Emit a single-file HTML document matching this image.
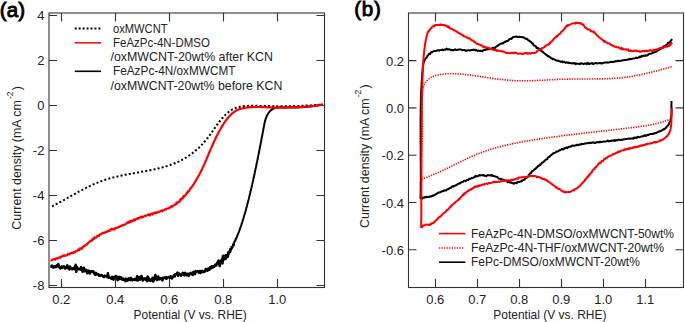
<!DOCTYPE html>
<html><head><meta charset="utf-8"><title>Chart</title>
<style>html,body{margin:0;padding:0;background:#fff;width:685px;height:322px;overflow:hidden}
svg{display:block;font-family:"Liberation Sans",sans-serif}</style></head>
<body>
<svg width="685" height="322" viewBox="0 0 685 322">
<rect width="685" height="322" fill="#fff"/>
<text x="-0.2" y="16.6" font-family="Liberation Sans, sans-serif" font-size="20.5" letter-spacing="0.1" fill="#000" stroke="#000" stroke-width="0.9">(a)</text>
<text x="354.2" y="16.3" font-family="Liberation Sans, sans-serif" font-size="20.5" letter-spacing="0.8" fill="#000" stroke="#000" stroke-width="0.9">(b)</text>
<rect x="49.0" y="13.0" width="275.5" height="274.5" fill="none" stroke="#333" stroke-width="1.1"/>
<path d="M61.5,287.5 V279.0 M61.5,13.0 V21.5" stroke="#333" stroke-width="1.1"/>
<text x="61.2" y="304.1" font-family="Liberation Sans, sans-serif" font-size="13" text-anchor="middle" fill="#222">0.2</text>
<path d="M115.5,287.5 V279.0 M115.5,13.0 V21.5" stroke="#333" stroke-width="1.1"/>
<text x="115.2" y="304.1" font-family="Liberation Sans, sans-serif" font-size="13" text-anchor="middle" fill="#222">0.4</text>
<path d="M169.5,287.5 V279.0 M169.5,13.0 V21.5" stroke="#333" stroke-width="1.1"/>
<text x="169.2" y="304.1" font-family="Liberation Sans, sans-serif" font-size="13" text-anchor="middle" fill="#222">0.6</text>
<path d="M223.50000000000003,287.5 V279.0 M223.50000000000003,13.0 V21.5" stroke="#333" stroke-width="1.1"/>
<text x="223.2" y="304.1" font-family="Liberation Sans, sans-serif" font-size="13" text-anchor="middle" fill="#222">0.8</text>
<path d="M277.5,287.5 V279.0 M277.5,13.0 V21.5" stroke="#333" stroke-width="1.1"/>
<text x="277.2" y="304.1" font-family="Liberation Sans, sans-serif" font-size="13" text-anchor="middle" fill="#222">1.0</text>
<path d="M49.0,15.5 H57.0 M324.5,15.5 H316.5" stroke="#333" stroke-width="1.1"/>
<text x="44.4" y="19.9" font-family="Liberation Sans, sans-serif" font-size="13" text-anchor="end" fill="#222">4</text>
<path d="M49.0,60.5 H57.0 M324.5,60.5 H316.5" stroke="#333" stroke-width="1.1"/>
<text x="44.4" y="64.9" font-family="Liberation Sans, sans-serif" font-size="13" text-anchor="end" fill="#222">2</text>
<path d="M49.0,105.5 H57.0 M324.5,105.5 H316.5" stroke="#333" stroke-width="1.1"/>
<text x="44.4" y="109.9" font-family="Liberation Sans, sans-serif" font-size="13" text-anchor="end" fill="#222">0</text>
<path d="M49.0,150.5 H57.0 M324.5,150.5 H316.5" stroke="#333" stroke-width="1.1"/>
<text x="44.4" y="154.9" font-family="Liberation Sans, sans-serif" font-size="13" text-anchor="end" fill="#222">-2</text>
<path d="M49.0,195.5 H57.0 M324.5,195.5 H316.5" stroke="#333" stroke-width="1.1"/>
<text x="44.4" y="199.9" font-family="Liberation Sans, sans-serif" font-size="13" text-anchor="end" fill="#222">-4</text>
<path d="M49.0,240.5 H57.0 M324.5,240.5 H316.5" stroke="#333" stroke-width="1.1"/>
<text x="44.4" y="244.9" font-family="Liberation Sans, sans-serif" font-size="13" text-anchor="end" fill="#222">-6</text>
<path d="M49.0,285.5 H57.0 M324.5,285.5 H316.5" stroke="#333" stroke-width="1.1"/>
<text x="44.4" y="289.9" font-family="Liberation Sans, sans-serif" font-size="13" text-anchor="end" fill="#222">-8</text>
<text x="133.6" y="319.1" font-family="Liberation Sans, sans-serif" font-size="12.7" textLength="113.2" lengthAdjust="spacingAndGlyphs" fill="#222">Potential (V vs. RHE)</text>
<text transform="translate(21.4,229.7) rotate(-90)" font-family="Liberation Sans, sans-serif" font-size="12.6" fill="#222"><tspan x="0" y="0" textLength="129.5" lengthAdjust="spacingAndGlyphs">Current density (mA cm</tspan><tspan x="130.6" y="-8" font-size="8.4">-2</tspan><tspan x="139.4" y="0">)</tspan></text>
<rect x="408.5" y="13.0" width="275.0" height="274.5" fill="none" stroke="#333" stroke-width="1.1"/>
<path d="M435.5,287.5 V279.0 M435.5,13.0 V21.5" stroke="#333" stroke-width="1.1"/>
<text x="435.2" y="304.1" font-family="Liberation Sans, sans-serif" font-size="13" text-anchor="middle" fill="#222">0.6</text>
<path d="M477.5,287.5 V279.0 M477.5,13.0 V21.5" stroke="#333" stroke-width="1.1"/>
<text x="477.2" y="304.1" font-family="Liberation Sans, sans-serif" font-size="13" text-anchor="middle" fill="#222">0.7</text>
<path d="M519.5,287.5 V279.0 M519.5,13.0 V21.5" stroke="#333" stroke-width="1.1"/>
<text x="519.2" y="304.1" font-family="Liberation Sans, sans-serif" font-size="13" text-anchor="middle" fill="#222">0.8</text>
<path d="M561.5,287.5 V279.0 M561.5,13.0 V21.5" stroke="#333" stroke-width="1.1"/>
<text x="561.2" y="304.1" font-family="Liberation Sans, sans-serif" font-size="13" text-anchor="middle" fill="#222">0.9</text>
<path d="M603.5,287.5 V279.0 M603.5,13.0 V21.5" stroke="#333" stroke-width="1.1"/>
<text x="603.2" y="304.1" font-family="Liberation Sans, sans-serif" font-size="13" text-anchor="middle" fill="#222">1.0</text>
<path d="M645.5,287.5 V279.0 M645.5,13.0 V21.5" stroke="#333" stroke-width="1.1"/>
<text x="645.2" y="304.1" font-family="Liberation Sans, sans-serif" font-size="13" text-anchor="middle" fill="#222">1.1</text>
<path d="M408.5,60.6 H416.5 M683.5,60.6 H675.5" stroke="#333" stroke-width="1.1"/>
<text x="404" y="65.6" font-family="Liberation Sans, sans-serif" font-size="13" text-anchor="end" fill="#222">0.2</text>
<path d="M408.5,107.9 H416.5 M683.5,107.9 H675.5" stroke="#333" stroke-width="1.1"/>
<text x="404" y="112.9" font-family="Liberation Sans, sans-serif" font-size="13" text-anchor="end" fill="#222">0.0</text>
<path d="M408.5,155.2 H416.5 M683.5,155.2 H675.5" stroke="#333" stroke-width="1.1"/>
<text x="404" y="160.2" font-family="Liberation Sans, sans-serif" font-size="13" text-anchor="end" fill="#222">-0.2</text>
<path d="M408.5,202.5 H416.5 M683.5,202.5 H675.5" stroke="#333" stroke-width="1.1"/>
<text x="404" y="207.5" font-family="Liberation Sans, sans-serif" font-size="13" text-anchor="end" fill="#222">-0.4</text>
<path d="M408.5,249.8 H416.5 M683.5,249.8 H675.5" stroke="#333" stroke-width="1.1"/>
<text x="404" y="254.8" font-family="Liberation Sans, sans-serif" font-size="13" text-anchor="end" fill="#222">-0.6</text>
<text x="493.3" y="319.1" font-family="Liberation Sans, sans-serif" font-size="12.7" textLength="113.2" lengthAdjust="spacingAndGlyphs" fill="#222">Potential (V vs. RHE)</text>
<text transform="translate(369.2,227.9) rotate(-90)" font-family="Liberation Sans, sans-serif" font-size="12.6" fill="#222"><tspan x="0" y="0" textLength="129.5" lengthAdjust="spacingAndGlyphs">Current density (mA cm</tspan><tspan x="130.6" y="-8" font-size="8.4">-2</tspan><tspan x="139.4" y="0">)</tspan></text>
<g fill="none" stroke-linejoin="round" stroke-linecap="butt">
<path d="M52.0,206.4 L52.6,206.1 L53.3,205.7 L53.9,205.4 L54.5,205.1 L55.1,204.8 L55.7,204.5 L56.3,204.1 L56.9,203.8 L57.5,203.5 L58.1,203.1 L58.7,202.8 L59.4,202.5 L60.0,202.1 L60.6,201.8 L61.2,201.5 L61.8,201.1 L62.4,200.8 L63.0,200.5 L63.6,200.1 L64.2,199.8 L64.9,199.4 L65.5,199.1 L66.1,198.7 L66.7,198.4 L67.3,198.1 L67.9,197.7 L68.5,197.4 L69.2,197.0 L69.8,196.7 L70.4,196.3 L71.0,196.0 L71.6,195.6 L72.2,195.3 L72.8,194.9 L73.5,194.6 L74.1,194.3 L74.7,193.9 L75.3,193.6 L75.9,193.2 L76.6,192.9 L77.2,192.6 L77.8,192.2 L78.4,191.9 L79.0,191.5 L79.7,191.2 L80.3,190.9 L80.9,190.5 L81.5,190.2 L82.2,189.9 L82.8,189.6 L83.4,189.2 L84.0,188.9 L84.7,188.6 L85.3,188.3 L85.9,187.9 L86.6,187.6 L87.2,187.3 L87.8,187.0 L88.4,186.7 L89.1,186.4 L89.7,186.1 L90.4,185.8 L91.0,185.5 L91.6,185.2 L92.3,184.9 L92.9,184.6 L93.5,184.3 L94.2,184.0 L94.8,183.8 L95.5,183.5 L96.1,183.2 L96.8,182.9 L97.4,182.7 L98.1,182.4 L98.7,182.1 L99.4,181.9 L100.0,181.6 L100.7,181.4 L101.3,181.1 L102.0,180.9 L102.6,180.6 L103.3,180.4 L104.0,180.2 L104.6,180.0 L105.3,179.7 L105.9,179.5 L106.6,179.3 L107.3,179.1 L107.9,178.9 L108.6,178.7 L109.3,178.5 L109.9,178.3 L110.6,178.1 L111.3,177.9 L112.0,177.8 L112.6,177.6 L113.3,177.4 L114.0,177.2 L114.7,177.1 L115.3,176.9 L116.0,176.7 L116.7,176.6 L117.4,176.4 L118.1,176.3 L118.8,176.1 L119.4,175.9 L120.1,175.8 L120.8,175.7 L121.5,175.5 L122.2,175.4 L122.9,175.2 L123.6,175.1 L124.2,175.0 L124.9,174.8 L125.6,174.7 L126.3,174.6 L127.0,174.4 L127.7,174.3 L128.4,174.2 L129.1,174.0 L129.8,173.9 L130.5,173.8 L131.1,173.7 L131.8,173.5 L132.5,173.4 L133.2,173.3 L133.9,173.2 L134.6,173.1 L135.3,172.9 L136.0,172.8 L136.7,172.7 L137.4,172.6 L138.1,172.4 L138.8,172.3 L139.5,172.2 L140.2,172.1 L140.9,172.0 L141.5,171.8 L142.2,171.7 L142.9,171.6 L143.6,171.5 L144.3,171.3 L145.0,171.2 L145.7,171.1 L146.4,171.0 L147.1,170.8 L147.8,170.7 L148.5,170.6 L149.2,170.4 L149.8,170.3 L150.5,170.2 L151.2,170.0 L151.9,169.9 L152.6,169.7 L153.3,169.6 L154.0,169.4 L154.7,169.3 L155.4,169.1 L156.0,169.0 L156.7,168.8 L157.4,168.7 L158.1,168.5 L158.8,168.3 L159.5,168.2 L160.1,168.0 L160.8,167.8 L161.5,167.6 L162.2,167.5 L162.8,167.3 L163.5,167.1 L164.2,166.9 L164.9,166.7 L165.5,166.5 L166.2,166.3 L166.9,166.1 L167.5,165.9 L168.2,165.7 L168.9,165.5 L169.5,165.2 L170.2,165.0 L170.8,164.8 L171.5,164.5 L172.2,164.3 L172.8,164.0 L173.5,163.8 L174.1,163.5 L174.8,163.3 L175.4,163.0 L176.0,162.7 L176.7,162.5 L177.3,162.2 L177.9,161.9 L178.6,161.6 L179.2,161.3 L179.8,161.0 L180.5,160.7 L181.1,160.4 L181.7,160.1 L182.3,159.7 L182.9,159.4 L183.5,159.1 L184.1,158.7 L184.7,158.4 L185.3,158.0 L185.9,157.6 L186.5,157.3 L187.1,156.9 L187.7,156.5 L188.3,156.1 L188.9,155.7 L189.5,155.3 L190.0,154.9 L190.6,154.5 L191.2,154.1 L191.8,153.7 L192.3,153.3 L192.9,152.8 L193.4,152.4 L194.0,151.9 L194.5,151.5 L195.1,151.0 L195.6,150.6 L196.1,150.1 L196.7,149.7 L197.2,149.2 L197.7,148.7 L198.2,148.2 L198.8,147.8 L199.3,147.3 L199.8,146.8 L200.3,146.3 L200.8,145.8 L201.3,145.3 L201.8,144.8 L202.3,144.2 L202.7,143.7 L203.2,143.2 L203.7,142.7 L204.2,142.2 L204.6,141.6 L205.1,141.1 L205.5,140.5 L206.0,140.0 L206.4,139.5 L206.9,138.9 L207.3,138.4 L207.7,137.8 L208.2,137.2 L208.6,136.7 L209.0,136.1 L209.4,135.6 L209.8,135.0 L210.3,134.4 L210.7,133.8 L211.1,133.3 L211.5,132.7 L211.9,132.1 L212.3,131.6 L212.7,131.0 L213.1,130.4 L213.5,129.8 L213.9,129.2 L214.3,128.7 L214.7,128.1 L215.2,127.5 L215.6,126.9 L216.0,126.4 L216.4,125.8 L216.8,125.2 L217.2,124.7 L217.6,124.1 L218.0,123.5 L218.5,123.0 L218.9,122.4 L219.3,121.8 L219.7,121.3 L220.2,120.7 L220.6,120.2 L221.1,119.6 L221.5,119.1 L222.0,118.5 L222.4,118.0 L222.9,117.5 L223.3,116.9 L223.8,116.4 L224.3,115.9 L224.8,115.4 L225.3,114.9 L225.8,114.4 L226.3,114.0 L226.8,113.5 L227.3,113.0 L227.8,112.6 L228.3,112.2 L228.9,111.7 L229.4,111.3 L230.0,111.0 L230.5,110.6 L231.1,110.2 L231.6,109.9 L232.2,109.5 L232.8,109.2 L233.4,108.9 L234.0,108.6 L234.6,108.4 L235.3,108.1 L235.9,107.9 L236.5,107.7 L237.2,107.5 L237.8,107.3 L238.5,107.1 L239.1,107.0 L239.8,106.8 L240.5,106.7 L241.2,106.5 L241.8,106.4 L242.5,106.3 L243.2,106.2 L243.9,106.1 L244.6,106.1 L245.3,106.0 L246.0,105.9 L246.8,105.9 L247.5,105.9 L248.2,105.8 L248.9,105.8 L249.6,105.8 L250.4,105.8 L251.1,105.8 L251.8,105.7 L252.6,105.7 L253.3,105.8 L254.0,105.8 L254.8,105.8 L255.5,105.8 L256.2,105.8 L257.0,105.8 L257.7,105.8 L258.4,105.9 L259.1,105.9 L259.9,105.9 L260.6,105.9 L261.3,105.9 L262.0,106.0 L262.8,106.0 L263.5,106.0 L264.2,106.0 L264.9,106.0 L265.6,106.0 L266.4,106.1 L267.1,106.1 L267.8,106.1 L268.5,106.1 L269.2,106.1 L269.9,106.1 L270.6,106.1 L271.3,106.2 L272.0,106.2 L272.7,106.2 L273.4,106.2 L274.1,106.2 L274.8,106.2 L275.5,106.2 L276.2,106.2 L276.9,106.2 L277.6,106.2 L278.3,106.2 L279.0,106.2 L279.7,106.2 L280.4,106.2 L281.1,106.2 L281.8,106.2 L282.5,106.2 L283.2,106.2 L283.9,106.2 L284.5,106.2 L285.2,106.2 L285.9,106.2 L286.6,106.2 L287.3,106.2 L288.0,106.2 L288.7,106.2 L289.4,106.2 L290.1,106.2 L290.8,106.2 L291.4,106.1 L292.1,106.1 L292.8,106.1 L293.5,106.1 L294.2,106.1 L294.9,106.1 L295.6,106.0 L296.3,106.0 L297.0,106.0 L297.6,106.0 L298.3,106.0 L299.0,105.9 L299.7,105.9 L300.4,105.9 L301.1,105.9 L301.8,105.8 L302.5,105.8 L303.2,105.8 L303.9,105.7 L304.6,105.7 L305.3,105.7 L306.0,105.6 L306.7,105.6 L307.4,105.6 L308.1,105.5 L308.8,105.5 L309.5,105.4 L310.2,105.4 L310.9,105.4 L311.6,105.3 L312.3,105.3 L313.0,105.2 L313.7,105.2 L314.4,105.1 L315.1,105.1 L315.8,105.0 L316.5,105.0 L317.2,104.9 L318.0,104.8 L318.7,104.8 L319.4,104.7 L320.1,104.7 L320.8,104.6 L321.6,104.5" stroke="#000" stroke-width="2" stroke-dasharray="2 2.2"/>
<path d="M50.5,265.9 L51.2,266.5 L51.9,265.5 L52.6,266.8 L53.3,267.5 L54.0,266.3 L54.7,266.8 L55.4,266.3 L56.1,267.1 L56.8,265.3 L57.5,266.1 L58.2,264.1 L58.9,266.9 L59.6,267.2 L60.3,268.3 L61.0,267.8 L61.7,266.6 L62.4,267.9 L63.1,266.5 L63.8,266.5 L64.5,266.5 L65.2,268.5 L65.9,268.0 L66.6,267.8 L67.3,265.4 L68.0,268.1 L68.7,267.4 L69.4,269.4 L70.1,266.7 L70.8,268.3 L71.5,268.3 L72.2,269.3 L72.9,268.6 L73.6,267.9 L74.3,269.1 L74.9,268.6 L75.6,264.8 L76.3,271.8 L77.0,267.0 L77.7,269.2 L78.4,269.1 L79.1,269.1 L79.8,268.8 L80.4,269.5 L81.1,267.2 L81.8,269.0 L82.5,271.6 L83.2,270.2 L83.8,267.7 L84.5,271.3 L85.2,270.6 L85.9,269.8 L86.5,270.4 L87.2,273.3 L87.9,270.7 L88.5,270.7 L89.2,271.0 L89.9,273.4 L90.5,271.6 L91.2,271.5 L91.9,271.3 L92.5,271.9 L93.2,271.4 L93.9,272.8 L94.5,273.8 L95.2,274.9 L95.9,272.9 L96.5,274.2 L97.2,274.5 L97.9,274.4 L98.5,274.4 L99.2,275.8 L99.9,275.7 L100.5,275.5 L101.2,275.0 L101.9,275.2 L102.5,275.8 L103.2,276.5 L103.9,277.0 L104.5,275.8 L105.2,276.1 L105.9,276.2 L106.6,276.1 L107.3,277.0 L107.9,273.3 L108.6,277.6 L109.3,277.7 L110.0,277.8 L110.7,278.3 L111.4,278.8 L112.1,276.8 L112.8,277.3 L113.5,279.6 L114.2,277.4 L114.9,277.7 L115.6,276.0 L116.3,277.2 L117.0,276.9 L117.7,280.1 L118.4,277.9 L119.1,276.8 L119.8,278.9 L120.5,277.5 L121.1,277.4 L121.8,278.6 L122.5,279.7 L123.2,278.6 L123.9,279.8 L124.6,280.0 L125.3,281.1 L126.0,278.7 L126.7,279.5 L127.4,280.7 L128.1,279.8 L128.8,278.4 L129.5,279.7 L130.2,280.0 L130.9,277.9 L131.6,279.7 L132.3,280.4 L133.0,279.3 L133.7,279.6 L134.4,279.9 L135.1,278.9 L135.8,279.7 L136.5,280.2 L137.2,276.3 L137.9,280.5 L138.6,278.0 L139.3,277.1 L140.0,279.6 L140.7,278.1 L141.4,276.0 L142.1,278.1 L142.8,280.5 L143.5,279.2 L144.2,278.4 L144.9,279.0 L145.6,279.7 L146.3,278.3 L147.0,281.2 L147.7,276.5 L148.4,277.9 L149.1,280.5 L149.8,279.6 L150.5,280.9 L151.2,279.3 L151.9,279.9 L152.6,277.8 L153.3,281.5 L154.0,279.6 L154.7,278.5 L155.4,275.1 L156.1,278.4 L156.8,280.0 L157.5,279.8 L158.2,276.6 L158.9,278.3 L159.6,279.3 L160.3,278.7 L161.0,278.1 L161.7,278.8 L162.4,280.4 L163.1,277.9 L163.7,278.2 L164.4,277.5 L165.1,278.1 L165.8,277.0 L166.5,278.7 L167.2,277.6 L167.9,277.5 L168.6,277.3 L169.2,277.1 L169.9,277.8 L170.6,276.3 L171.3,277.5 L172.0,278.5 L172.7,276.9 L173.4,276.5 L174.0,275.4 L174.7,276.5 L175.4,274.3 L176.1,274.2 L176.8,274.2 L177.5,272.6 L178.2,275.7 L178.9,273.6 L179.6,274.2 L180.2,274.5 L180.9,275.7 L181.6,273.9 L182.3,274.6 L183.0,272.9 L183.7,274.4 L184.4,275.3 L185.1,272.9 L185.8,273.8 L186.5,275.1 L187.2,274.4 L187.9,273.8 L188.6,275.8 L189.3,273.8 L190.0,274.1 L190.7,272.9 L191.4,274.1 L192.1,274.2 L192.8,274.8 L193.5,271.9 L194.2,274.0 L194.9,273.9 L195.6,271.2 L196.3,272.0 L197.0,271.8 L197.7,271.1 L198.3,272.2 L199.0,272.6 L199.7,271.2 L200.4,273.1 L201.1,271.1 L201.7,271.6 L202.4,271.0 L203.1,272.1 L203.7,271.9 L204.4,271.4 L205.1,271.4 L205.7,269.1 L206.3,269.6 L207.0,269.5 L207.6,270.7 L208.2,268.8 L208.9,268.6 L209.5,269.6 L210.1,267.3 L210.7,267.8 L211.3,268.1 L211.9,266.3 L212.5,267.4 L213.1,267.5 L213.7,266.2 L214.3,266.7 L214.9,265.7 L215.5,264.7 L216.1,265.4 L216.7,264.4 L217.3,262.6 L217.9,263.7 L218.5,260.6 L219.1,263.1 L219.7,266.0 L220.3,261.9 L220.9,260.9 L221.4,261.3 L222.0,259.2 L222.5,263.4 L223.0,255.9 L223.5,255.8 L224.0,259.5 L224.5,258.3 L224.9,257.9 L225.4,259.0 L225.8,255.3 L226.2,257.9 L226.6,255.3 L227.0,255.3 L227.4,255.0 L227.8,256.6 L228.2,252.6 L228.6,253.8 L229.0,252.5 L229.3,251.7 L229.7,252.2 L230.1,251.9 L230.4,249.2 L230.8,249.3 L231.1,249.0 L231.5,248.3 L231.8,247.1 L232.1,246.9" stroke="#000" stroke-width="2.6"/>
<path d="M224.0,259.5 L224.5,258.3 L224.9,257.9 L225.4,259.0 L225.8,255.3 L226.2,257.9 L226.6,255.3 L227.0,255.3 L227.4,255.0 L227.8,256.6 L228.2,252.6 L228.6,253.8 L229.0,252.5 L229.3,251.7 L229.7,252.2 L230.1,251.9 L230.4,249.2 L230.8,249.3 L231.1,249.0 L231.5,248.3 L231.8,247.1 L232.1,246.9 L232.5,247.3 L232.8,245.8 L233.1,244.2 L233.4,243.9 L233.8,245.6 L234.1,243.1 L234.4,241.8 L234.7,241.5 L235.0,240.8 L235.3,241.0 L235.5,239.7 L235.8,238.5 L236.1,238.9 L236.4,238.0 L236.7,237.5 L236.9,236.9 L237.2,235.9 L237.5,235.4 L237.7,235.0 L238.0,234.1 L238.2,233.5 L238.5,232.8 L238.7,232.3 L239.0,231.6 L239.2,231.0 L239.5,230.3 L239.7,229.6 L239.9,228.9 L240.2,228.3 L240.4,227.6 L240.6,227.0 L240.9,226.3 L241.1,225.6 L241.3,225.0 L241.5,224.3 L241.7,223.6 L242.0,223.0 L242.2,222.3 L242.4,221.7 L242.6,221.0 L242.8,220.3 L243.0,219.6 L243.2,219.0 L243.4,218.3 L243.6,217.6 L243.8,217.0 L244.0,216.3 L244.2,215.6 L244.4,215.0 L244.6,214.3 L244.8,213.6 L245.0,212.9 L245.2,212.3 L245.4,211.6 L245.6,210.9 L245.8,210.2 L246.0,209.5 L246.1,208.9 L246.3,208.2 L246.5,207.5 L246.7,206.8 L246.9,206.2 L247.1,205.5 L247.2,204.8 L247.4,204.1 L247.6,203.4 L247.8,202.8 L247.9,202.1 L248.1,201.4 L248.3,200.7 L248.5,200.0 L248.6,199.3 L248.8,198.7 L249.0,198.0 L249.1,197.3 L249.3,196.6 L249.5,195.9 L249.6,195.3 L249.8,194.6 L250.0,193.9 L250.1,193.2 L250.3,192.5 L250.5,191.8 L250.6,191.1 L250.8,190.5 L250.9,189.8 L251.1,189.1 L251.3,188.4 L251.4,187.7 L251.6,187.0 L251.7,186.4 L251.9,185.7 L252.1,185.0 L252.2,184.3 L252.4,183.6 L252.5,182.9 L252.7,182.2 L252.8,181.6 L253.0,180.9 L253.1,180.2 L253.3,179.5 L253.4,178.8 L253.6,178.1 L253.7,177.5 L253.9,176.8 L254.0,176.1 L254.2,175.4 L254.3,174.7 L254.5,174.0 L254.6,173.3 L254.8,172.7 L254.9,172.0 L255.1,171.3 L255.2,170.6 L255.3,169.9 L255.5,169.2 L255.6,168.6 L255.8,167.9 L255.9,167.2 L256.1,166.5 L256.2,165.8 L256.4,165.1 L256.5,164.5 L256.6,163.8 L256.8,163.1 L256.9,162.4 L257.1,161.7 L257.2,161.0 L257.3,160.3 L257.5,159.7 L257.6,159.0 L257.8,158.3 L257.9,157.6 L258.0,156.9 L258.2,156.2 L258.3,155.6 L258.5,154.9 L258.6,154.2 L258.7,153.5 L258.9,152.8 L259.0,152.1 L259.1,151.4 L259.3,150.7 L259.4,150.1 L259.5,149.4 L259.7,148.7 L259.8,148.0 L259.9,147.3 L260.1,146.6 L260.2,145.9 L260.3,145.2 L260.5,144.6 L260.6,143.9 L260.7,143.2 L260.9,142.5 L261.0,141.8 L261.1,141.1 L261.3,140.4 L261.4,139.7 L261.5,139.0 L261.7,138.3 L261.8,137.7 L261.9,137.0 L262.1,136.3 L262.2,135.6 L262.3,134.9 L262.4,134.2 L262.6,133.5 L262.7,132.8 L262.8,132.1 L263.0,131.4 L263.1,130.7 L263.2,130.0 L263.4,129.3 L263.5,128.6 L263.6,127.9 L263.7,127.2 L263.9,126.5 L264.0,125.8 L264.1,125.1 L264.3,124.4 L264.4,123.7 L264.6,123.1 L264.7,122.4 L264.9,121.7 L265.1,121.0 L265.3,120.3 L265.4,119.7 L265.7,119.0 L265.9,118.3 L266.1,117.7 L266.4,117.0 L266.7,116.4 L266.9,115.7 L267.3,115.1 L267.6,114.5 L267.9,113.9 L268.3,113.3 L268.7,112.7 L269.1,112.1 L269.6,111.6 L270.0,111.1 L270.5,110.6 L271.1,110.2 L271.6,109.7 L272.2,109.3 L272.7,109.0 L273.3,108.7 L273.9,108.4 L274.6,108.2 L275.2,108.0 L275.9,107.8 L276.5,107.6 L277.2,107.5 L277.9,107.5 L278.6,107.4 L279.3,107.4 L280.0,107.3 L280.7,107.3 L281.4,107.3 L282.1,107.4 L282.9,107.4 L283.6,107.4 L284.3,107.4 L285.0,107.5 L285.8,107.5 L286.5,107.5 L287.2,107.5 L287.9,107.6 L288.6,107.6 L289.4,107.6 L290.1,107.6 L290.8,107.6 L291.5,107.6 L292.2,107.6 L292.9,107.6 L293.6,107.6 L294.3,107.6 L295.0,107.5 L295.7,107.5 L296.4,107.5 L297.1,107.5 L297.8,107.4 L298.5,107.4 L299.2,107.4 L299.9,107.3 L300.6,107.3 L301.3,107.3 L302.0,107.2 L302.7,107.2 L303.4,107.1 L304.1,107.1 L304.8,107.0 L305.5,106.9 L306.2,106.9 L306.9,106.8 L307.5,106.7 L308.2,106.7 L308.9,106.6 L309.6,106.5 L310.3,106.4 L311.0,106.4 L311.7,106.3 L312.4,106.2 L313.1,106.1 L313.8,106.0 L314.5,105.9 L315.1,105.8 L315.8,105.7 L316.5,105.6 L317.2,105.5 L317.9,105.4 L318.6,105.2 L319.3,105.1 L320.0,105.0 L320.7,104.9 L321.4,104.8 L322.1,104.6 L322.8,104.5" stroke="#000" stroke-width="2.0"/>
<path d="M50.4,260.6 L51.1,260.5 L51.7,260.0 L52.4,259.5 L53.1,259.5 L53.7,259.0 L54.4,259.3 L55.1,259.6 L55.7,258.6 L56.4,258.3 L57.1,258.6 L57.7,258.4 L58.4,258.0 L59.1,257.4 L59.7,257.5 L60.4,257.7 L61.1,256.5 L61.8,256.7 L62.4,255.9 L63.1,255.9 L63.8,255.4 L64.4,255.9 L65.1,255.3 L65.8,255.7 L66.4,255.4 L67.1,255.1 L67.8,253.8 L68.4,254.4 L69.1,254.4 L69.7,254.2 L70.4,253.2 L71.0,253.4 L71.7,252.9 L72.3,252.7 L72.9,253.3 L73.6,252.2 L74.2,252.2 L74.8,252.3 L75.5,251.4 L76.1,251.3 L76.7,251.0 L77.3,250.7 L77.9,249.7 L78.5,250.0 L79.1,250.2 L79.7,248.5 L80.3,249.2 L80.9,248.5 L81.4,247.8 L82.0,248.6 L82.6,247.6 L83.2,246.3 L83.7,246.5 L84.3,246.3 L84.8,245.5 L85.4,245.5 L86.0,244.7 L86.5,244.6 L87.1,244.5 L87.6,243.1 L88.2,243.1 L88.8,242.3 L89.3,242.2 L89.9,241.2 L90.4,241.0 L91.0,240.7 L91.5,240.8 L92.1,240.5 L92.7,238.9 L93.2,238.8 L93.8,239.0 L94.4,237.4 L94.9,237.7 L95.5,237.4 L96.1,237.7 L96.7,237.0 L97.3,236.2 L97.8,235.8 L98.4,235.5 L99.0,235.9 L99.6,234.7 L100.2,234.4 L100.9,234.4 L101.5,233.8 L102.1,233.5 L102.7,232.8 L103.4,233.0 L104.0,232.5 L104.6,232.9 L105.3,232.4 L105.9,231.9 L106.6,231.9 L107.2,231.2 L107.9,231.6 L108.5,230.9 L109.2,230.9 L109.8,229.8 L110.5,230.3 L111.2,229.1 L111.8,228.7 L112.5,229.3 L113.1,228.8 L113.8,229.0 L114.5,229.7 L115.1,228.1 L115.8,227.9 L116.4,228.0 L117.1,227.9 L117.8,227.4 L118.4,227.1 L119.1,227.2 L119.7,226.9 L120.4,225.9 L121.0,226.1 L121.7,225.9 L122.3,225.1 L122.9,225.4 L123.6,224.6 L124.2,225.2 L124.9,224.5 L125.5,224.2 L126.1,223.6 L126.8,223.5 L127.4,222.3 L128.0,222.4 L128.7,222.8 L129.3,221.4 L129.9,222.4 L130.5,220.9 L131.2,221.7 L131.8,220.7 L132.4,221.2 L133.0,220.6 L133.7,219.5 L134.3,220.5 L134.9,220.3 L135.6,219.3 L136.2,219.0 L136.8,218.8 L137.5,218.2 L138.1,218.8 L138.8,217.9 L139.4,217.9 L140.1,217.3 L140.7,217.1 L141.3,216.6 L142.0,217.6 L142.7,216.7 L143.3,217.0 L144.0,216.4 L144.6,215.9 L145.3,215.8 L145.9,215.5 L146.6,215.6 L147.3,215.2 L147.9,215.1 L148.6,214.4 L149.3,214.5 L149.9,215.4 L150.6,214.1 L151.3,213.8 L152.0,214.2 L152.6,214.5 L153.3,213.0 L154.0,213.4 L154.7,213.0 L155.4,212.3 L156.0,213.2 L156.7,212.6 L157.4,212.5 L158.1,211.9 L158.8,212.2 L159.4,211.5 L160.1,211.5 L160.8,210.8 L161.5,210.5 L162.2,211.4 L162.8,210.3 L163.5,210.4 L164.2,210.0 L164.8,209.6 L165.5,209.2 L166.1,209.5 L166.8,208.8 L167.4,208.5 L168.1,208.3 L168.7,208.5 L169.4,208.0 L170.0,207.5 L170.6,206.8 L171.2,206.1 L171.8,206.8 L172.4,206.4 L173.0,205.5 L173.6,205.5 L174.2,205.2 L174.8,204.8 L175.3,204.5 L175.9,203.5 L176.5,204.0 L177.0,202.3 L177.6,202.8 L178.1,202.2 L178.6,202.0 L179.2,202.0 L179.7,201.4 L180.2,199.7 L180.7,199.0 L181.2,199.7 L181.7,198.4 L182.2,198.4 L182.7,198.3 L183.2,196.7 L183.7,196.0 L184.2,196.6 L184.7,196.0 L185.1,195.3 L185.6,194.9 L186.1,194.0 L186.5,193.2 L187.0,193.3 L187.4,192.4 L187.9,191.5 L188.3,192.0 L188.7,191.2 L189.2,190.8 L189.6,189.7 L190.0,189.2 L190.4,188.5 L190.8,188.0 L191.2,187.9 L191.6,186.9 L192.0,186.7 L192.4,186.1 L192.8,185.5 L193.2,185.0 L193.6,184.4 L194.0,183.8 L194.4,183.2 L194.7,182.6 L195.1,182.0 L195.5,181.4 L195.8,180.8 L196.2,180.2 L196.5,179.5 L196.9,178.9 L197.2,178.3 L197.6,177.7 L197.9,177.1 L198.3,176.5 L198.6,175.8 L198.9,175.2 L199.3,174.6 L199.6,174.0 L199.9,173.3 L200.2,172.7 L200.6,172.1 L200.9,171.4 L201.2,170.8 L201.5,170.2 L201.8,169.5 L202.1,168.9 L202.4,168.2 L202.7,167.6 L203.0,167.0 L203.3,166.3 L203.6,165.7 L203.9,165.0 L204.2,164.4 L204.5,163.8 L204.8,163.1 L205.0,162.5 L205.3,161.8 L205.6,161.2 L205.9,160.5 L206.2,159.9 L206.4,159.3 L206.7,158.6 L207.0,158.0 L207.3,157.3 L207.5,156.7 L207.8,156.0 L208.1,155.4 L208.4,154.8 L208.6,154.1 L208.9,153.5 L209.2,152.8 L209.4,152.2 L209.7,151.6 L210.0,150.9 L210.3,150.3 L210.5,149.6 L210.8,149.0 L211.1,148.4 L211.4,147.7 L211.6,147.1 L211.9,146.4 L212.2,145.8 L212.5,145.2 L212.8,144.5 L213.0,143.9 L213.3,143.3 L213.6,142.6 L213.9,142.0 L214.2,141.3 L214.5,140.7 L214.8,140.1 L215.1,139.5 L215.4,138.8 L215.7,138.2 L216.0,137.6 L216.3,136.9 L216.6,136.3 L216.9,135.7 L217.2,135.0 L217.5,134.4 L217.9,133.8 L218.2,133.2 L218.5,132.6 L218.8,131.9 L219.2,131.3 L219.5,130.7 L219.9,130.1 L220.2,129.5 L220.6,128.8 L220.9,128.2 L221.3,127.6 L221.6,127.0 L222.0,126.4 L222.4,125.8 L222.8,125.2 L223.1,124.6 L223.5,124.0 L223.9,123.3 L224.3,122.7 L224.7,122.1 L225.1,121.6 L225.6,121.0 L226.0,120.4 L226.4,119.8 L226.8,119.2 L227.3,118.7 L227.7,118.1 L228.2,117.6 L228.6,117.0 L229.1,116.5 L229.6,116.0 L230.1,115.5 L230.6,115.0 L231.1,114.5 L231.6,114.0 L232.1,113.5 L232.6,113.1 L233.1,112.7 L233.7,112.3 L234.2,111.9 L234.8,111.5 L235.4,111.1 L235.9,110.8 L236.5,110.4 L237.1,110.1 L237.7,109.8 L238.4,109.6 L239.0,109.3 L239.6,109.1 L240.3,108.9 L240.9,108.7 L241.6,108.5 L242.2,108.3 L242.9,108.2 L243.6,108.0 L244.3,107.9 L244.9,107.8 L245.6,107.7 L246.3,107.6 L247.0,107.5 L247.7,107.4 L248.4,107.4 L249.1,107.3 L249.8,107.2 L250.5,107.2 L251.2,107.1 L251.9,107.1 L252.6,107.1 L253.3,107.0 L254.0,107.0 L254.7,107.0 L255.4,107.0 L256.1,107.0 L256.9,107.0 L257.6,107.0 L258.3,107.0 L259.0,107.0 L259.7,107.0 L260.4,107.0 L261.1,107.0 L261.8,107.1 L262.5,107.1 L263.2,107.1 L264.0,107.1 L264.7,107.2 L265.4,107.2 L266.1,107.2 L266.8,107.3 L267.5,107.3 L268.2,107.3 L268.9,107.3 L269.7,107.4 L270.4,107.4 L271.1,107.4 L271.8,107.5 L272.5,107.5 L273.2,107.5 L273.9,107.5 L274.6,107.6 L275.3,107.6 L276.0,107.6 L276.7,107.6 L277.4,107.6 L278.1,107.6 L278.8,107.7 L279.5,107.7 L280.2,107.7 L280.9,107.6 L281.6,107.6 L282.3,107.6 L283.0,107.6 L283.7,107.6 L284.4,107.6 L285.1,107.5 L285.8,107.5 L286.5,107.5 L287.2,107.5 L287.9,107.4 L288.6,107.4 L289.3,107.4 L290.0,107.3 L290.7,107.3 L291.4,107.3 L292.1,107.2 L292.8,107.2 L293.5,107.2 L294.2,107.1 L294.9,107.1 L295.6,107.1 L296.3,107.1 L297.0,107.0 L297.7,107.0 L298.4,107.0 L299.1,106.9 L299.8,106.9 L300.5,106.9 L301.2,106.9 L301.9,106.8 L302.6,106.8 L303.3,106.8 L304.0,106.7 L304.7,106.7 L305.4,106.6 L306.1,106.6 L306.8,106.6 L307.5,106.5 L308.2,106.5 L308.9,106.4 L309.6,106.4 L310.3,106.3 L311.0,106.2 L311.7,106.2 L312.4,106.1 L313.1,106.0 L313.8,106.0 L314.5,105.9 L315.2,105.8 L315.9,105.7 L316.6,105.6 L317.3,105.5 L318.0,105.4 L318.7,105.3 L319.4,105.2 L320.0,105.1 L320.7,104.9 L321.4,104.8 L322.1,104.7 L322.8,104.5" stroke="#f00" stroke-width="2.2"/>
</g>
<g fill="none" stroke-linejoin="round">
<path d="M421.6,179.5 L421.6,178.8 L421.5,178.1 L421.5,177.4 L421.5,176.7 L421.5,176.0 L421.4,175.3 L421.4,174.6 L421.4,173.9 L421.4,173.2 L421.4,172.5 L421.4,171.7 L421.4,171.0 L421.4,170.3 L421.4,169.6 L421.4,168.9 L421.4,168.2 L421.4,167.5 L421.4,166.8 L421.4,166.1 L421.4,165.4 L421.4,164.7 L421.4,164.0 L421.4,163.3 L421.4,162.6 L421.4,161.9 L421.5,161.2 L421.5,160.5 L421.5,159.8 L421.5,159.1 L421.5,158.4 L421.5,157.7 L421.6,157.0 L421.6,156.3 L421.6,155.6 L421.6,154.9 L421.7,154.2 L421.7,153.5 L421.7,152.8 L421.7,152.1 L421.8,151.4 L421.8,150.7 L421.8,150.0 L421.8,149.3 L421.9,148.6 L421.9,147.9 L421.9,147.2 L421.9,146.5 L422.0,145.8 L422.0,145.1 L422.0,144.4 L422.0,143.7 L422.1,143.0 L422.1,142.3 L422.1,141.6 L422.1,141.0 L422.2,140.3 L422.2,139.6 L422.2,138.9 L422.2,138.2 L422.3,137.5 L422.3,136.8 L422.3,136.1 L422.3,135.4 L422.3,134.7 L422.4,134.0 L422.4,133.3 L422.4,132.6 L422.4,131.9 L422.4,131.2 L422.4,130.5 L422.4,129.8 L422.4,129.1 L422.5,128.4 L422.5,127.7 L422.5,127.0 L422.5,126.3 L422.5,125.6 L422.5,124.9 L422.5,124.2 L422.5,123.5 L422.5,122.8 L422.5,122.0 L422.4,121.3 L422.4,120.6 L422.4,119.9 L422.4,119.2 L422.4,118.5 L422.4,117.8 L422.3,117.1 L422.3,116.4 L422.3,115.7 L422.3,115.0 L422.2,114.3 L422.2,113.6 L422.2,112.9 L422.1,112.2 L422.1,111.5 L422.0,110.8 L422.0,110.1 L421.9,109.4 L421.9,108.7 L421.8,108.0 L421.8,107.3 L421.7,106.5 L421.7,105.8 L421.6,105.1 L421.6,104.4 L421.5,103.7 L421.5,103.0 L421.4,102.3 L421.4,101.6 L421.4,100.9 L421.4,100.2 L421.3,99.5 L421.3,98.8 L421.3,98.1 L421.4,97.4 L421.4,96.7 L421.4,96.0 L421.5,95.3 L421.5,94.6 L421.6,93.9 L421.7,93.2 L421.8,92.5 L421.9,91.8 L422.1,91.1 L422.2,90.4 L422.4,89.7 L422.6,89.1 L422.8,88.4 L423.0,87.7 L423.3,87.0 L423.6,86.4 L423.8,85.7 L424.2,85.1 L424.5,84.4 L424.8,83.8 L425.2,83.2 L425.6,82.6 L426.0,82.0 L426.4,81.5 L426.9,80.9 L427.4,80.4 L427.8,79.9 L428.3,79.4 L428.9,78.9 L429.4,78.5 L430.0,78.1 L430.5,77.7 L431.1,77.3 L431.7,77.0 L432.3,76.7 L433.0,76.4 L433.6,76.1 L434.2,75.9 L434.9,75.7 L435.6,75.5 L436.2,75.3 L436.9,75.1 L437.6,75.0 L438.3,74.9 L439.0,74.7 L439.7,74.6 L440.4,74.5 L441.1,74.4 L441.8,74.3 L442.4,74.2 L443.1,74.2 L443.8,74.1 L444.5,74.0 L445.2,74.0 L445.9,73.9 L446.6,73.9 L447.3,73.8 L448.0,73.8 L448.7,73.8 L449.4,73.7 L450.1,73.7 L450.8,73.7 L451.5,73.7 L452.2,73.7 L452.9,73.7 L453.6,73.7 L454.3,73.7 L455.0,73.8 L455.7,73.8 L456.4,73.8 L457.1,73.8 L457.8,73.9 L458.5,73.9 L459.2,74.0 L459.9,74.0 L460.6,74.1 L461.3,74.1 L462.0,74.2 L462.7,74.2 L463.4,74.3 L464.1,74.4 L464.8,74.5 L465.5,74.5 L466.2,74.6 L466.9,74.7 L467.6,74.8 L468.3,74.9 L469.0,74.9 L469.6,75.0 L470.3,75.1 L471.0,75.2 L471.7,75.3 L472.4,75.4 L473.1,75.5 L473.8,75.6 L474.5,75.7 L475.2,75.8 L475.9,75.9 L476.6,76.0 L477.3,76.1 L478.0,76.2 L478.7,76.3 L479.4,76.4 L480.1,76.5 L480.8,76.6 L481.5,76.7 L482.2,76.8 L482.9,76.9 L483.6,77.1 L484.3,77.2 L485.0,77.3 L485.7,77.4 L486.4,77.5 L487.1,77.6 L487.8,77.7 L488.5,77.8 L489.2,77.9 L489.9,78.0 L490.6,78.1 L491.3,78.2 L492.0,78.3 L492.7,78.4 L493.4,78.5 L494.1,78.6 L494.8,78.7 L495.4,78.8 L496.1,78.9 L496.8,79.0 L497.5,79.0 L498.2,79.1 L498.9,79.2 L499.6,79.3 L500.3,79.4 L501.0,79.5 L501.7,79.5 L502.4,79.6 L503.1,79.7 L503.8,79.8 L504.5,79.9 L505.2,79.9 L505.9,80.0 L506.6,80.1 L507.3,80.1 L508.0,80.2 L508.7,80.2 L509.4,80.3 L510.1,80.3 L510.8,80.4 L511.5,80.4 L512.2,80.5 L512.9,80.5 L513.5,80.6 L514.2,80.6 L514.9,80.6 L515.6,80.7 L516.3,80.7 L517.0,80.7 L517.7,80.7 L518.4,80.8 L519.1,80.8 L519.8,80.8 L520.5,80.8 L521.2,80.8 L521.9,80.8 L522.6,80.8 L523.3,80.8 L524.0,80.8 L524.7,80.8 L525.4,80.8 L526.1,80.8 L526.8,80.8 L527.5,80.8 L528.2,80.8 L528.9,80.8 L529.6,80.7 L530.3,80.7 L531.0,80.7 L531.7,80.7 L532.4,80.7 L533.1,80.6 L533.8,80.6 L534.5,80.6 L535.2,80.6 L535.9,80.5 L536.6,80.5 L537.3,80.5 L538.0,80.4 L538.7,80.4 L539.4,80.4 L540.1,80.3 L540.8,80.3 L541.5,80.3 L542.2,80.2 L542.9,80.2 L543.6,80.2 L544.3,80.1 L545.0,80.1 L545.7,80.0 L546.4,80.0 L547.1,80.0 L547.8,79.9 L548.5,79.9 L549.2,79.9 L549.9,79.8 L550.6,79.8 L551.3,79.7 L552.0,79.7 L552.7,79.7 L553.4,79.6 L554.1,79.6 L554.8,79.6 L555.5,79.5 L556.2,79.5 L556.9,79.5 L557.6,79.4 L558.3,79.4 L559.0,79.4 L559.7,79.3 L560.4,79.3 L561.1,79.3 L561.8,79.3 L562.5,79.2 L563.2,79.2 L563.9,79.2 L564.6,79.2 L565.3,79.2 L566.0,79.1 L566.7,79.1 L567.4,79.1 L568.1,79.1 L568.8,79.1 L569.5,79.1 L570.3,79.1 L571.0,79.1 L571.7,79.0 L572.4,79.0 L573.1,79.0 L573.8,79.0 L574.5,79.0 L575.2,79.0 L575.9,79.0 L576.6,79.0 L577.3,79.0 L578.0,79.0 L578.7,79.0 L579.4,79.0 L580.1,79.0 L580.8,79.0 L581.5,79.0 L582.2,79.0 L582.9,79.0 L583.6,79.0 L584.3,79.0 L585.0,79.0 L585.7,79.0 L586.4,79.0 L587.1,79.0 L587.8,79.0 L588.5,79.0 L589.2,79.0 L589.9,79.0 L590.6,79.0 L591.3,79.0 L592.0,79.0 L592.7,79.0 L593.4,79.0 L594.1,79.0 L594.8,79.0 L595.5,79.0 L596.2,79.0 L596.9,79.0 L597.6,78.9 L598.3,78.9 L599.0,78.9 L599.7,78.9 L600.4,78.9 L601.1,78.9 L601.9,78.9 L602.6,78.9 L603.3,78.8 L604.0,78.8 L604.7,78.8 L605.3,78.8 L606.0,78.8 L606.7,78.7 L607.4,78.7 L608.1,78.7 L608.8,78.6 L609.5,78.6 L610.2,78.6 L610.9,78.5 L611.6,78.5 L612.3,78.5 L613.0,78.4 L613.7,78.4 L614.4,78.3 L615.1,78.3 L615.8,78.2 L616.5,78.2 L617.2,78.1 L617.9,78.1 L618.6,78.0 L619.3,78.0 L620.0,77.9 L620.7,77.8 L621.4,77.8 L622.1,77.7 L622.8,77.6 L623.5,77.6 L624.2,77.5 L624.9,77.4 L625.6,77.3 L626.2,77.2 L626.9,77.1 L627.6,77.0 L628.3,76.9 L629.0,76.8 L629.7,76.7 L630.4,76.6 L631.1,76.5 L631.8,76.4 L632.5,76.3 L633.2,76.2 L633.9,76.1 L634.5,75.9 L635.2,75.8 L635.9,75.7 L636.6,75.5 L637.3,75.4 L638.0,75.3 L638.7,75.1 L639.4,75.0 L640.1,74.9 L640.7,74.7 L641.4,74.6 L642.1,74.4 L642.8,74.3 L643.5,74.1 L644.2,73.9 L644.9,73.8 L645.5,73.6 L646.2,73.5 L646.9,73.3 L647.6,73.1 L648.3,73.0 L649.0,72.8 L649.6,72.6 L650.3,72.5 L651.0,72.3 L651.7,72.1 L652.4,72.0 L653.1,71.8 L653.7,71.6 L654.4,71.4 L655.1,71.2 L655.8,71.1 L656.5,70.9 L657.1,70.7 L657.8,70.5 L658.5,70.3 L659.2,70.2 L659.9,70.0 L660.5,69.8 L661.2,69.6 L661.9,69.4 L662.6,69.2 L663.2,69.0 L663.9,68.9 L664.6,68.7 L665.3,68.5 L665.9,68.3 L666.6,68.1 L667.3,67.9 L668.0,67.7 L668.6,67.5 L669.3,67.4 L670.0,67.2 L670.7,67.0 L671.3,66.8 L672.0,66.6" stroke="#f00" stroke-width="1.6" stroke-dasharray="1.3 1.2"/>
<path d="M421.5,179.1 L422.2,178.8 L422.9,178.6 L423.5,178.4 L424.2,178.2 L424.8,177.9 L425.5,177.7 L426.2,177.5 L426.8,177.2 L427.5,177.0 L428.1,176.7 L428.8,176.5 L429.4,176.2 L430.1,176.0 L430.7,175.7 L431.4,175.4 L432.0,175.2 L432.7,174.9 L433.3,174.6 L434.0,174.4 L434.6,174.1 L435.3,173.8 L435.9,173.5 L436.5,173.3 L437.2,173.0 L437.8,172.7 L438.5,172.4 L439.1,172.1 L439.8,171.8 L440.4,171.5 L441.0,171.2 L441.7,170.9 L442.3,170.6 L442.9,170.3 L443.6,170.0 L444.2,169.7 L444.9,169.4 L445.5,169.1 L446.1,168.8 L446.8,168.5 L447.4,168.2 L448.0,167.9 L448.7,167.6 L449.3,167.3 L449.9,167.0 L450.6,166.6 L451.2,166.3 L451.8,166.0 L452.5,165.7 L453.1,165.4 L453.7,165.1 L454.4,164.8 L455.0,164.5 L455.6,164.1 L456.3,163.8 L456.9,163.5 L457.5,163.2 L458.2,162.9 L458.8,162.6 L459.5,162.3 L460.1,162.0 L460.7,161.7 L461.4,161.3 L462.0,161.0 L462.6,160.7 L463.3,160.4 L463.9,160.1 L464.5,159.8 L465.2,159.5 L465.8,159.2 L466.5,158.9 L467.1,158.6 L467.7,158.3 L468.4,158.0 L469.0,157.7 L469.7,157.4 L470.3,157.1 L470.9,156.8 L471.6,156.6 L472.2,156.3 L472.9,156.0 L473.5,155.7 L474.2,155.4 L474.8,155.2 L475.4,154.9 L476.1,154.6 L476.7,154.3 L477.4,154.1 L478.0,153.8 L478.7,153.6 L479.3,153.3 L480.0,153.0 L480.7,152.8 L481.3,152.5 L482.0,152.3 L482.6,152.0 L483.3,151.8 L483.9,151.6 L484.6,151.3 L485.3,151.1 L485.9,150.9 L486.6,150.6 L487.2,150.4 L487.9,150.2 L488.6,150.0 L489.2,149.8 L489.9,149.6 L490.6,149.3 L491.2,149.1 L491.9,148.9 L492.6,148.7 L493.2,148.5 L493.9,148.3 L494.6,148.1 L495.3,147.9 L495.9,147.7 L496.6,147.6 L497.3,147.4 L498.0,147.2 L498.6,147.0 L499.3,146.8 L500.0,146.6 L500.7,146.5 L501.3,146.3 L502.0,146.1 L502.7,145.9 L503.4,145.8 L504.1,145.6 L504.7,145.4 L505.4,145.3 L506.1,145.1 L506.8,145.0 L507.5,144.8 L508.2,144.7 L508.8,144.5 L509.5,144.4 L510.2,144.2 L510.9,144.1 L511.6,143.9 L512.3,143.8 L513.0,143.6 L513.7,143.5 L514.3,143.3 L515.0,143.2 L515.7,143.1 L516.4,142.9 L517.1,142.8 L517.8,142.7 L518.5,142.5 L519.2,142.4 L519.9,142.3 L520.5,142.1 L521.2,142.0 L521.9,141.9 L522.6,141.8 L523.3,141.6 L524.0,141.5 L524.7,141.4 L525.4,141.3 L526.1,141.1 L526.8,141.0 L527.5,140.9 L528.2,140.8 L528.9,140.7 L529.6,140.6 L530.3,140.5 L530.9,140.3 L531.6,140.2 L532.3,140.1 L533.0,140.0 L533.7,139.9 L534.4,139.8 L535.1,139.7 L535.8,139.6 L536.5,139.5 L537.2,139.4 L537.9,139.2 L538.6,139.1 L539.3,139.0 L540.0,138.9 L540.7,138.8 L541.4,138.7 L542.1,138.6 L542.8,138.5 L543.5,138.4 L544.2,138.3 L544.9,138.2 L545.5,138.1 L546.2,138.0 L546.9,137.9 L547.6,137.8 L548.3,137.7 L549.0,137.6 L549.7,137.5 L550.4,137.4 L551.1,137.3 L551.8,137.2 L552.5,137.1 L553.2,137.0 L553.9,136.9 L554.6,136.8 L555.3,136.7 L556.0,136.6 L556.7,136.6 L557.4,136.5 L558.1,136.4 L558.8,136.3 L559.5,136.2 L560.2,136.1 L560.9,136.0 L561.6,135.9 L562.3,135.8 L563.0,135.7 L563.7,135.6 L564.4,135.5 L565.0,135.5 L565.7,135.4 L566.4,135.3 L567.1,135.2 L567.8,135.1 L568.5,135.0 L569.2,134.9 L569.9,134.8 L570.6,134.8 L571.3,134.7 L572.0,134.6 L572.7,134.5 L573.4,134.4 L574.1,134.3 L574.8,134.2 L575.5,134.2 L576.2,134.1 L576.9,134.0 L577.6,133.9 L578.3,133.8 L579.0,133.7 L579.7,133.7 L580.4,133.6 L581.1,133.5 L581.8,133.4 L582.5,133.3 L583.2,133.2 L583.9,133.2 L584.6,133.1 L585.3,133.0 L586.0,132.9 L586.7,132.8 L587.4,132.8 L588.1,132.7 L588.8,132.6 L589.5,132.5 L590.2,132.4 L590.9,132.4 L591.6,132.3 L592.3,132.2 L593.0,132.1 L593.7,132.0 L594.4,132.0 L595.1,131.9 L595.8,131.8 L596.5,131.7 L597.2,131.6 L597.9,131.6 L598.5,131.5 L599.2,131.4 L599.9,131.3 L600.6,131.2 L601.3,131.2 L602.0,131.1 L602.7,131.0 L603.4,130.9 L604.1,130.8 L604.8,130.8 L605.5,130.7 L606.2,130.6 L606.9,130.5 L607.6,130.4 L608.3,130.4 L609.0,130.3 L609.7,130.2 L610.4,130.1 L611.1,130.1 L611.8,130.0 L612.5,129.9 L613.2,129.8 L613.9,129.7 L614.6,129.7 L615.3,129.6 L616.0,129.5 L616.7,129.4 L617.4,129.3 L618.1,129.3 L618.8,129.2 L619.5,129.1 L620.2,129.0 L620.9,128.9 L621.6,128.9 L622.3,128.8 L623.0,128.7 L623.7,128.6 L624.4,128.5 L625.1,128.5 L625.8,128.4 L626.5,128.3 L627.2,128.2 L627.9,128.1 L628.6,128.0 L629.3,128.0 L630.0,127.9 L630.7,127.8 L631.4,127.7 L632.1,127.6 L632.8,127.5 L633.5,127.5 L634.2,127.4 L634.9,127.3 L635.6,127.2 L636.3,127.1 L637.0,127.0 L637.7,126.9 L638.4,126.8 L639.1,126.7 L639.8,126.6 L640.5,126.5 L641.2,126.4 L641.8,126.3 L642.5,126.2 L643.2,126.1 L643.9,126.0 L644.6,125.9 L645.3,125.8 L646.0,125.7 L646.7,125.6 L647.4,125.4 L648.1,125.3 L648.8,125.2 L649.5,125.1 L650.1,124.9 L650.8,124.8 L651.5,124.7 L652.2,124.5 L652.9,124.4 L653.6,124.2 L654.3,124.1 L654.9,123.9 L655.6,123.8 L656.3,123.6 L657.0,123.4 L657.7,123.3 L658.3,123.1 L659.0,122.9 L659.7,122.7 L660.4,122.6 L661.0,122.4 L661.7,122.2 L662.4,122.0 L663.1,121.8 L663.7,121.6 L664.4,121.4 L665.1,121.1 L665.7,120.9 L666.4,120.7 L667.1,120.5 L667.7,120.2 L668.4,120.0 L669.1,119.7 L669.7,119.5 L670.4,119.2 L671.0,119.0" stroke="#f00" stroke-width="1.6" stroke-dasharray="1.3 1.2"/>
<path d="M420.5,199.0 L420.5,198.3 L420.5,197.6 L420.5,196.9 L420.6,196.2 L420.6,195.5 L420.6,194.8 L420.6,194.1 L420.6,193.4 L420.6,192.7 L420.6,192.0 L420.6,191.3 L420.7,190.6 L420.7,189.9 L420.7,189.2 L420.7,188.5 L420.7,187.8 L420.7,187.1 L420.7,186.4 L420.7,185.7 L420.7,185.0 L420.7,184.3 L420.7,183.6 L420.7,182.9 L420.7,182.2 L420.8,181.5 L420.8,180.8 L420.8,180.1 L420.8,179.3 L420.8,178.6 L420.8,177.9 L420.8,177.2 L420.8,176.5 L420.8,175.8 L420.8,175.1 L420.8,174.4 L420.8,173.7 L420.8,173.0 L420.8,172.3 L420.8,171.6 L420.8,170.9 L420.8,170.2 L420.8,169.5 L420.8,168.8 L420.8,168.1 L420.8,167.4 L420.8,166.7 L420.8,166.0 L420.8,165.3 L420.8,164.6 L420.8,163.9 L420.8,163.2 L420.8,162.5 L420.8,161.8 L420.7,161.1 L420.7,160.4 L420.7,159.7 L420.7,159.0 L420.7,158.3 L420.7,157.6 L420.7,156.9 L420.7,156.2 L420.7,155.5 L420.7,154.8 L420.7,154.1 L420.7,153.4 L420.7,152.7 L420.7,152.0 L420.7,151.3 L420.7,150.6 L420.7,149.9 L420.7,149.2 L420.7,148.4 L420.7,147.7 L420.7,147.0 L420.7,146.3 L420.7,145.6 L420.6,144.9 L420.6,144.2 L420.6,143.5 L420.6,142.8 L420.6,142.1 L420.6,141.4 L420.6,140.7 L420.6,140.0 L420.6,139.3 L420.6,138.6 L420.6,137.9 L420.6,137.2 L420.6,136.5 L420.6,135.8 L420.6,135.1 L420.6,134.4 L420.6,133.7 L420.6,133.0 L420.6,132.3 L420.6,131.6 L420.6,130.9 L420.6,130.2 L420.6,129.5 L420.6,128.8 L420.6,128.1 L420.6,127.4 L420.6,126.7 L420.6,126.0 L420.6,125.3 L420.6,124.6 L420.6,123.9 L420.6,123.2 L420.6,122.5 L420.6,121.8 L420.6,121.1 L420.6,120.4 L420.6,119.7 L420.6,119.0 L420.6,118.2 L420.6,117.5 L420.6,116.8 L420.6,116.1 L420.7,115.4 L420.7,114.7 L420.7,114.0 L420.7,113.3 L420.7,112.6 L420.7,111.9 L420.7,111.2 L420.7,110.5 L420.7,109.8 L420.7,109.1 L420.8,108.4 L420.8,107.7 L420.8,107.0 L420.8,106.3 L420.8,105.6 L420.8,104.9 L420.8,104.2 L420.9,103.5 L420.9,102.8 L420.9,102.1 L420.9,101.4 L420.9,100.7 L420.9,100.0 L421.0,99.3 L421.0,98.6 L421.0,97.9 L421.0,97.2 L421.1,96.5 L421.1,95.8 L421.1,95.1 L421.1,94.4 L421.2,93.7 L421.2,93.0 L421.2,92.3 L421.2,91.6 L421.3,90.9 L421.3,90.2 L421.3,89.5 L421.4,88.8 L421.4,88.1 L421.4,87.4 L421.5,86.7 L421.5,86.0 L421.5,85.3 L421.6,84.6 L421.6,83.9 L421.6,83.2 L421.7,82.5 L421.7,81.8 L421.8,81.1 L421.8,80.4 L421.9,79.7 L421.9,79.0 L421.9,78.2 L422.0,77.5 L422.0,76.8 L422.1,76.1 L422.1,75.4 L422.2,74.7 L422.2,74.0 L422.3,73.3 L422.3,72.6 L422.4,71.9 L422.5,71.2 L422.5,70.5 L422.6,69.8 L422.6,69.1 L422.7,68.4 L422.8,67.7 L422.8,67.0 L422.9,66.4 L423.0,65.8 L423.1,65.1 L423.3,64.9 L423.4,63.2 L423.6,63.2 L423.8,62.3 L424.0,61.7 L424.3,60.6 L424.6,60.3 L424.9,60.0 L425.2,59.1 L425.6,58.6 L426.1,57.9 L426.5,57.8 L427.0,56.9 L427.5,55.7 L428.1,55.6 L428.6,54.6 L429.1,53.7 L429.6,54.0 L430.1,54.0 L430.6,53.1 L431.1,52.3 L431.6,52.0 L432.1,52.2 L432.7,51.6 L433.3,51.4 L434.0,51.1 L434.6,51.0 L435.3,51.1 L436.0,50.9 L436.7,50.7 L437.4,50.2 L438.1,50.6 L438.8,50.2 L439.5,50.7 L440.2,49.9 L441.0,50.1 L441.7,50.0 L442.4,49.5 L443.1,50.3 L443.7,50.1 L444.4,49.4 L445.1,49.7 L445.8,49.5 L446.5,48.5 L447.2,49.4 L447.9,49.3 L448.5,49.4 L449.2,49.2 L449.9,49.6 L450.6,49.7 L451.2,50.2 L451.9,50.1 L452.6,50.0 L453.3,50.5 L454.0,49.8 L454.7,49.8 L455.4,49.3 L456.1,50.2 L456.8,49.9 L457.5,49.8 L458.2,49.7 L458.9,49.5 L459.6,49.5 L460.2,49.4 L460.9,49.5 L461.6,49.7 L462.3,50.3 L463.0,50.1 L463.7,50.1 L464.3,50.1 L465.0,50.2 L465.7,50.9 L466.4,50.6 L467.1,50.5 L467.8,50.4 L468.5,50.2 L469.2,50.4 L469.9,50.6 L470.6,50.2 L471.3,50.1 L472.0,50.1 L472.7,50.1 L473.4,49.5 L474.1,49.9 L474.8,49.8 L475.5,50.4 L476.2,50.0 L476.8,50.6 L477.5,51.0 L478.2,50.6 L478.9,50.6 L479.6,51.0 L480.3,50.9 L480.9,50.6 L481.6,51.0 L482.3,51.4 L483.0,50.5 L483.6,50.3 L484.3,49.8 L485.0,50.0 L485.6,49.3 L486.3,49.1 L487.0,49.7 L487.7,48.8 L488.4,49.3 L489.1,49.3 L489.8,48.8 L490.5,48.7 L491.2,49.1 L491.9,48.3 L492.6,48.1 L493.3,47.7 L493.9,48.0 L494.6,48.2 L495.2,47.8 L495.8,46.9 L496.4,46.5 L496.9,46.2 L497.5,46.0 L498.0,45.4 L498.6,45.1 L499.2,44.7 L499.8,44.2 L500.4,43.9 L501.0,43.7 L501.6,43.3 L502.3,43.3 L502.9,43.4 L503.6,42.8 L504.2,42.4 L504.9,41.7 L505.5,42.0 L506.2,41.0 L506.8,40.9 L507.4,41.2 L508.0,40.8 L508.6,40.1 L509.1,39.3 L509.7,39.3 L510.3,38.8 L510.9,38.8 L511.5,38.9 L512.1,38.0 L512.7,37.4 L513.3,37.0 L514.0,37.1 L514.6,36.9 L515.3,36.5 L516.0,36.8 L516.7,36.4 L517.4,37.1 L518.1,37.1 L518.8,37.1 L519.5,36.7 L520.2,37.1 L520.9,37.0 L521.6,37.1 L522.3,37.3 L522.9,37.2 L523.6,37.3 L524.3,38.2 L524.9,38.2 L525.6,38.6 L526.2,39.1 L526.8,38.6 L527.4,39.3 L528.0,39.9 L528.6,40.4 L529.2,40.5 L529.8,41.4 L530.3,41.6 L530.8,41.6 L531.3,42.2 L531.8,43.2 L532.3,43.6 L532.8,43.3 L533.3,44.8 L533.8,45.1 L534.3,45.8 L534.8,45.7 L535.4,46.2 L535.9,46.4 L536.5,47.9 L537.1,47.5 L537.7,48.4 L538.2,48.1 L538.8,48.8 L539.4,48.7 L539.9,49.5 L540.5,50.3 L541.0,50.1 L541.5,51.3 L542.0,51.5 L542.6,51.6 L543.1,52.2 L543.6,52.7 L544.1,53.2 L544.6,53.5 L545.2,53.9 L545.7,54.5 L546.3,54.7 L546.9,55.0 L547.5,55.8 L548.1,56.5 L548.6,56.1 L549.3,57.0 L549.9,57.1 L550.5,57.4 L551.1,58.3 L551.7,58.2 L552.4,59.1 L553.0,58.7 L553.7,59.3 L554.3,59.4 L555.0,59.6 L555.6,60.2 L556.3,60.2 L556.9,60.7 L557.6,60.7 L558.3,60.6 L558.9,61.1 L559.6,61.3 L560.3,61.8 L561.0,61.4 L561.6,61.8 L562.3,61.4 L563.0,62.3 L563.7,61.9 L564.4,61.8 L565.0,62.5 L565.7,62.9 L566.4,62.2 L567.1,62.5 L567.8,62.7 L568.5,62.6 L569.2,63.2 L569.9,62.9 L570.6,63.0 L571.3,63.5 L572.0,63.1 L572.7,63.5 L573.4,63.2 L574.1,63.2 L574.8,63.0 L575.5,64.2 L576.2,63.5 L576.9,63.7 L577.6,63.7 L578.3,63.8 L579.0,63.8 L579.7,64.3 L580.4,63.5 L581.1,63.3 L581.8,63.5 L582.5,63.4 L583.2,64.0 L583.9,64.1 L584.6,63.5 L585.3,63.4 L586.0,63.7 L586.7,64.2 L587.4,62.9 L588.1,63.9 L588.8,63.4 L589.5,64.0 L590.2,63.4 L590.9,63.6 L591.6,63.2 L592.3,63.3 L593.0,64.0 L593.7,63.8 L594.4,63.4 L595.1,63.2 L595.8,62.9 L596.5,63.3 L597.2,63.4 L597.9,63.3 L598.6,63.3 L599.3,62.9 L600.0,63.2 L600.7,63.1 L601.4,63.5 L602.1,63.6 L602.8,62.9 L603.5,62.7 L604.2,62.8 L604.9,62.6 L605.6,62.5 L606.3,62.6 L607.0,62.3 L607.7,62.7 L608.4,62.4 L609.1,62.4 L609.8,62.2 L610.5,62.0 L611.2,61.8 L611.9,62.0 L612.6,61.8 L613.3,61.9 L614.0,61.8 L614.7,61.3 L615.4,61.6 L616.1,61.1 L616.8,61.2 L617.5,61.2 L618.2,60.6 L618.9,61.1 L619.5,61.1 L620.2,60.9 L620.9,60.7 L621.6,60.6 L622.3,60.3 L623.0,60.4 L623.7,60.2 L624.4,60.3 L625.1,59.7 L625.8,60.1 L626.5,59.9 L627.1,59.7 L627.8,59.5 L628.5,59.6 L629.2,58.9 L629.9,59.4 L630.6,59.2 L631.3,59.0 L632.0,58.9 L632.7,58.5 L633.3,58.4 L634.0,58.6 L634.7,58.4 L635.4,58.1 L636.1,57.5 L636.8,57.9 L637.5,58.0 L638.1,57.7 L638.8,57.4 L639.5,56.6 L640.2,57.2 L640.9,56.7 L641.5,55.8 L642.2,56.5 L642.9,55.8 L643.6,55.6 L644.2,55.6 L644.9,56.0 L645.6,55.3 L646.3,55.3 L646.9,55.5 L647.6,55.3 L648.3,54.5 L648.9,54.2 L649.6,53.7 L650.2,53.6 L650.9,53.7 L651.5,53.5 L652.2,53.1 L652.8,53.1 L653.5,52.3 L654.1,52.2 L654.8,52.2 L655.4,51.9 L656.1,51.7 L656.7,51.2 L657.3,50.7 L658.0,50.6 L658.6,49.8 L659.2,49.3 L659.8,49.6 L660.4,49.1 L661.0,48.8 L661.6,47.8 L662.2,47.9 L662.8,47.4 L663.4,46.9 L664.0,46.1 L664.6,46.3 L665.1,46.3 L665.7,45.7 L666.2,44.9 L666.8,44.7 L667.3,44.4 L667.8,42.9 L668.3,43.3 L668.8,43.0 L669.3,42.5 L669.8,42.3 L670.3,41.6 L670.7,40.9 L671.2,40.3 L671.6,39.9 L672.0,39.0" stroke="#000" stroke-width="2"/>
<path d="M420.6,199.6 L421.1,199.2 L421.7,199.0 L422.3,198.0 L422.9,197.7 L423.5,197.5 L424.2,197.7 L424.9,197.1 L425.6,197.5 L426.3,196.7 L427.0,196.9 L427.7,196.8 L428.4,197.1 L429.1,197.1 L429.8,196.3 L430.5,196.3 L431.1,196.6 L431.8,196.1 L432.4,195.6 L433.0,196.0 L433.7,195.5 L434.3,195.2 L434.9,194.6 L435.5,194.7 L436.1,193.9 L436.7,194.0 L437.4,193.0 L438.0,192.8 L438.7,192.8 L439.3,192.2 L440.0,192.4 L440.6,192.0 L441.3,191.4 L442.0,191.5 L442.6,191.1 L443.3,191.2 L443.9,190.5 L444.6,190.3 L445.2,190.5 L445.9,190.6 L446.5,190.2 L447.2,189.4 L447.8,189.1 L448.4,189.2 L449.1,188.4 L449.7,187.9 L450.3,187.9 L451.0,187.7 L451.6,187.0 L452.2,186.5 L452.8,186.2 L453.5,186.6 L454.1,185.8 L454.7,185.7 L455.4,185.5 L456.0,185.3 L456.6,184.7 L457.3,184.6 L457.9,183.9 L458.5,183.8 L459.2,183.3 L459.8,183.6 L460.4,182.9 L461.1,182.4 L461.7,182.2 L462.3,182.0 L463.0,182.0 L463.6,181.0 L464.3,180.8 L464.9,180.7 L465.6,181.3 L466.2,180.6 L466.8,180.0 L467.5,179.9 L468.1,180.1 L468.8,179.1 L469.4,178.8 L470.1,179.0 L470.7,178.5 L471.4,178.3 L472.0,177.7 L472.7,178.2 L473.4,177.9 L474.0,177.3 L474.7,177.1 L475.3,176.0 L476.0,176.6 L476.7,176.2 L477.3,176.2 L478.0,176.1 L478.7,175.6 L479.3,175.1 L480.0,175.6 L480.7,175.2 L481.4,175.3 L482.1,175.2 L482.8,175.3 L483.5,174.8 L484.2,175.9 L484.9,175.6 L485.6,175.9 L486.3,176.2 L487.0,175.6 L487.7,175.1 L488.4,175.3 L489.1,175.2 L489.8,175.4 L490.5,175.6 L491.2,175.0 L491.9,175.8 L492.6,175.3 L493.2,176.0 L493.9,176.1 L494.5,176.2 L495.2,176.5 L495.9,176.7 L496.5,176.9 L497.2,176.8 L497.8,177.6 L498.5,178.4 L499.1,178.7 L499.8,178.8 L500.4,178.9 L501.1,178.7 L501.7,179.6 L502.4,179.4 L503.0,179.6 L503.7,179.8 L504.3,180.2 L505.0,180.3 L505.6,180.7 L506.3,180.6 L506.9,181.1 L507.6,182.2 L508.2,181.7 L508.9,181.9 L509.5,182.4 L510.2,182.7 L510.8,182.3 L511.5,182.8 L512.2,183.3 L512.8,183.2 L513.5,183.2 L514.1,183.7 L514.8,183.0 L515.5,183.1 L516.1,182.8 L516.8,183.2 L517.5,181.9 L518.2,182.1 L518.9,181.8 L519.6,181.9 L520.2,181.7 L520.9,181.6 L521.6,180.5 L522.3,180.9 L522.9,180.3 L523.6,179.9 L524.2,179.9 L524.8,179.1 L525.4,178.4 L525.9,178.5 L526.4,177.7 L526.9,177.5 L527.4,177.3 L527.8,176.8 L528.3,176.6 L528.7,175.5 L529.1,174.6 L529.6,174.2 L530.0,173.6 L530.4,173.0 L530.9,173.0 L531.4,172.1 L531.8,171.2 L532.3,171.5 L532.8,170.8 L533.3,170.5 L533.9,169.9 L534.4,169.6 L534.9,169.0 L535.5,168.9 L536.0,168.2 L536.5,167.7 L537.1,167.3 L537.6,166.3 L538.2,166.2 L538.7,165.8 L539.3,165.5 L539.8,164.6 L540.4,165.0 L540.9,164.1 L541.5,163.3 L542.0,162.7 L542.5,162.6 L543.0,162.2 L543.6,161.6 L544.1,161.3 L544.6,160.7 L545.1,160.5 L545.6,159.7 L546.2,159.4 L546.7,159.3 L547.2,159.3 L547.7,157.8 L548.3,157.5 L548.8,156.9 L549.3,156.9 L549.9,155.9 L550.4,155.7 L551.0,155.4 L551.5,154.7 L552.1,154.3 L552.7,154.0 L553.3,153.2 L553.9,153.0 L554.5,152.9 L555.1,152.7 L555.7,152.3 L556.3,151.5 L557.0,151.5 L557.6,151.6 L558.2,151.2 L558.9,150.7 L559.5,150.1 L560.2,150.3 L560.8,149.7 L561.5,149.2 L562.1,149.0 L562.8,149.5 L563.4,148.8 L564.1,148.9 L564.7,148.1 L565.4,148.3 L566.1,147.6 L566.7,147.5 L567.4,148.1 L568.1,147.4 L568.7,146.8 L569.4,146.7 L570.1,146.7 L570.7,146.7 L571.4,146.0 L572.1,145.5 L572.8,145.8 L573.4,145.7 L574.1,145.6 L574.8,145.8 L575.5,145.3 L576.2,145.3 L576.9,144.6 L577.5,145.0 L578.2,145.3 L578.9,144.8 L579.6,144.5 L580.3,144.3 L581.0,144.7 L581.7,143.8 L582.4,143.9 L583.1,144.0 L583.8,143.9 L584.4,143.5 L585.1,143.6 L585.8,143.3 L586.5,143.4 L587.2,143.2 L587.9,142.8 L588.6,143.1 L589.3,143.3 L590.0,142.6 L590.7,142.8 L591.4,143.0 L592.1,142.4 L592.8,142.7 L593.5,142.2 L594.2,142.8 L594.9,143.1 L595.6,142.9 L596.3,142.2 L597.0,142.4 L597.7,142.1 L598.4,142.1 L599.2,142.4 L599.9,141.5 L600.6,142.2 L601.3,141.8 L602.0,142.1 L602.7,141.7 L603.4,141.4 L604.1,141.6 L604.8,141.7 L605.5,141.4 L606.2,141.4 L606.9,141.1 L607.6,140.5 L608.3,141.4 L609.0,141.2 L609.7,141.0 L610.4,140.9 L611.1,141.1 L611.8,140.6 L612.5,140.5 L613.2,140.5 L613.9,140.9 L614.6,140.0 L615.3,140.7 L616.0,140.1 L616.7,139.9 L617.4,140.5 L618.1,140.0 L618.8,139.6 L619.5,139.8 L620.2,140.1 L620.9,140.1 L621.6,139.5 L622.3,139.7 L623.0,139.7 L623.7,139.2 L624.4,139.4 L625.1,139.2 L625.8,139.0 L626.4,138.9 L627.1,138.9 L627.8,138.8 L628.5,138.6 L629.2,138.5 L629.9,138.9 L630.6,138.5 L631.3,138.6 L632.0,138.6 L632.7,138.3 L633.4,138.7 L634.1,137.6 L634.8,138.0 L635.5,137.5 L636.1,138.1 L636.8,137.9 L637.5,136.7 L638.2,136.8 L638.9,137.2 L639.6,137.1 L640.3,136.9 L641.0,136.6 L641.7,136.6 L642.3,136.5 L643.0,136.1 L643.7,136.3 L644.4,135.2 L645.1,135.9 L645.8,135.2 L646.4,135.7 L647.1,135.1 L647.8,134.8 L648.5,135.0 L649.2,134.4 L649.8,134.2 L650.5,133.9 L651.2,134.1 L651.9,134.1 L652.6,134.1 L653.2,133.5 L653.9,133.7 L654.6,133.2 L655.3,133.0 L655.9,132.9 L656.6,132.9 L657.3,132.2 L657.9,132.0 L658.6,131.8 L659.2,131.6 L659.9,131.0 L660.5,131.3 L661.1,130.6 L661.8,130.5 L662.4,129.8 L663.0,129.8 L663.6,129.4 L664.1,128.8 L664.7,129.1 L665.3,128.2 L665.8,128.1 L666.3,127.4 L666.9,126.4 L667.4,125.9 L667.8,125.6 L668.3,125.0 L668.7,124.4 L669.1,123.7 L669.4,122.6 L669.7,122.4 L670.0,121.2 L670.3,121.2 L670.5,120.6 L670.7,119.9 L670.8,119.3 L671.0,118.6 L671.1,117.9 L671.2,117.2 L671.3,116.5 L671.4,115.8 L671.4,115.1 L671.5,114.4 L671.5,113.7 L671.5,113.0 L671.5,112.3 L671.5,111.6 L671.5,110.8 L671.5,110.1 L671.5,109.4 L671.5,108.7 L671.5,108.0 L671.4,107.2 L671.4,106.5 L671.4,105.8 L671.4,105.1 L671.4,104.4 L671.4,103.7 L671.5,103.0 L671.5,102.3 L671.5,101.7 L671.6,101.0" stroke="#000" stroke-width="2"/>
<path d="M421.2,228.0 L421.2,227.3 L421.2,226.6 L421.2,225.9 L421.2,225.2 L421.2,224.5 L421.2,223.8 L421.2,223.1 L421.2,222.4 L421.2,221.7 L421.2,221.0 L421.2,220.3 L421.2,219.6 L421.3,218.9 L421.3,218.2 L421.3,217.5 L421.3,216.8 L421.3,216.1 L421.3,215.4 L421.3,214.7 L421.3,214.0 L421.3,213.3 L421.3,212.6 L421.3,211.9 L421.3,211.2 L421.3,210.5 L421.3,209.8 L421.3,209.1 L421.3,208.4 L421.3,207.7 L421.3,207.0 L421.3,206.3 L421.3,205.6 L421.3,204.9 L421.3,204.2 L421.3,203.5 L421.3,202.8 L421.3,202.1 L421.3,201.4 L421.3,200.7 L421.3,200.0 L421.3,199.3 L421.3,198.6 L421.3,197.9 L421.3,197.2 L421.3,196.5 L421.3,195.8 L421.3,195.1 L421.3,194.4 L421.3,193.7 L421.3,193.0 L421.3,192.3 L421.3,191.6 L421.4,190.8 L421.4,190.1 L421.4,189.4 L421.4,188.7 L421.4,188.0 L421.4,187.3 L421.4,186.6 L421.4,185.9 L421.4,185.2 L421.4,184.5 L421.4,183.8 L421.4,183.1 L421.4,182.4 L421.4,181.7 L421.4,181.0 L421.4,180.3 L421.4,179.6 L421.4,178.9 L421.4,178.2 L421.4,177.5 L421.4,176.8 L421.4,176.1 L421.4,175.4 L421.4,174.7 L421.4,174.0 L421.4,173.3 L421.4,172.6 L421.4,171.9 L421.4,171.2 L421.4,170.5 L421.4,169.8 L421.4,169.1 L421.4,168.4 L421.4,167.7 L421.4,167.0 L421.4,166.3 L421.4,165.6 L421.4,164.9 L421.4,164.2 L421.4,163.5 L421.4,162.8 L421.4,162.1 L421.4,161.4 L421.4,160.7 L421.4,160.0 L421.4,159.3 L421.4,158.6 L421.4,157.9 L421.4,157.2 L421.4,156.5 L421.4,155.8 L421.4,155.1 L421.4,154.4 L421.4,153.6 L421.4,152.9 L421.4,152.2 L421.4,151.5 L421.4,150.8 L421.4,150.1 L421.4,149.4 L421.4,148.7 L421.4,148.0 L421.5,147.3 L421.5,146.6 L421.5,145.9 L421.5,145.2 L421.5,144.5 L421.5,143.8 L421.5,143.1 L421.5,142.4 L421.5,141.7 L421.5,141.0 L421.5,140.3 L421.5,139.6 L421.5,138.9 L421.5,138.2 L421.5,137.5 L421.5,136.8 L421.5,136.1 L421.5,135.4 L421.5,134.7 L421.5,134.0 L421.5,133.3 L421.5,132.6 L421.5,131.9 L421.6,131.2 L421.6,130.5 L421.6,129.8 L421.6,129.1 L421.6,128.4 L421.6,127.7 L421.6,127.0 L421.6,126.3 L421.6,125.6 L421.6,124.9 L421.6,124.2 L421.6,123.5 L421.6,122.8 L421.6,122.1 L421.6,121.4 L421.7,120.7 L421.7,120.0 L421.7,119.3 L421.7,118.6 L421.7,117.9 L421.7,117.2 L421.7,116.5 L421.7,115.8 L421.7,115.1 L421.7,114.4 L421.7,113.7 L421.8,112.9 L421.8,112.2 L421.8,111.5 L421.8,110.8 L421.8,110.1 L421.8,109.4 L421.8,108.7 L421.8,108.0 L421.8,107.3 L421.9,106.6 L421.9,105.9 L421.9,105.2 L421.9,104.5 L421.9,103.8 L421.9,103.1 L421.9,102.4 L421.9,101.7 L422.0,101.0 L422.0,100.3 L422.0,99.6 L422.0,98.9 L422.0,98.2 L422.0,97.5 L422.0,96.8 L422.1,96.1 L422.1,95.4 L422.1,94.7 L422.1,94.0 L422.1,93.3 L422.1,92.6 L422.2,91.9 L422.2,91.2 L422.2,90.5 L422.2,89.8 L422.2,89.1 L422.2,88.4 L422.3,87.7 L422.3,87.0 L422.3,86.3 L422.3,85.6 L422.3,84.9 L422.3,84.2 L422.4,83.5 L422.4,82.8 L422.4,82.1 L422.4,81.4 L422.4,80.7 L422.5,80.0 L422.5,79.3 L422.5,78.6 L422.5,77.9 L422.6,77.2 L422.6,76.5 L422.6,75.8 L422.6,75.1 L422.7,74.4 L422.7,73.7 L422.7,73.0 L422.7,72.3 L422.8,71.6 L422.8,70.9 L422.8,70.2 L422.8,69.5 L422.9,68.8 L422.9,68.1 L422.9,67.4 L423.0,66.7 L423.0,66.2 L423.1,65.1 L423.1,64.4 L423.1,63.9 L423.2,63.3 L423.2,62.1 L423.3,61.3 L423.3,60.8 L423.4,59.8 L423.4,59.5 L423.5,59.5 L423.5,58.0 L423.6,57.8 L423.7,56.5 L423.7,56.3 L423.8,55.4 L423.8,54.8 L423.9,54.3 L424.0,54.0 L424.1,52.8 L424.1,52.1 L424.2,51.0 L424.3,50.8 L424.4,49.9 L424.4,49.5 L424.5,48.5 L424.6,48.4 L424.7,46.5 L424.8,46.3 L424.9,46.0 L425.0,44.9 L425.1,44.1 L425.2,43.5 L425.3,42.5 L425.5,42.3 L425.6,42.2 L425.7,41.2 L425.8,39.8 L425.9,39.1 L426.1,38.6 L426.2,38.3 L426.4,37.1 L426.5,36.4 L426.7,36.2 L426.9,35.5 L427.1,34.5 L427.3,33.6 L427.6,32.9 L427.9,32.5 L428.1,31.4 L428.5,31.7 L428.8,30.7 L429.2,30.5 L429.6,30.3 L430.0,29.6 L430.5,28.4 L430.9,28.5 L431.5,28.1 L432.0,27.1 L432.6,26.6 L433.2,26.5 L433.8,25.7 L434.4,26.3 L435.1,24.9 L435.7,25.1 L436.4,25.1 L437.1,25.0 L437.8,25.0 L438.5,25.0 L439.2,24.8 L440.0,25.2 L440.7,24.3 L441.4,25.0 L442.1,24.8 L442.8,25.1 L443.6,25.2 L444.3,25.0 L444.9,25.2 L445.6,25.8 L446.3,25.8 L446.9,25.7 L447.5,26.8 L448.1,27.2 L448.7,26.4 L449.2,27.4 L449.8,28.4 L450.4,28.3 L451.0,28.5 L451.5,28.7 L452.1,29.0 L452.7,29.4 L453.3,29.7 L453.9,30.4 L454.6,30.4 L455.2,30.7 L455.8,30.8 L456.4,31.5 L457.0,31.6 L457.6,32.2 L458.2,32.9 L458.8,33.0 L459.4,33.4 L460.0,33.8 L460.6,34.0 L461.2,34.3 L461.8,34.7 L462.4,35.3 L463.0,35.1 L463.6,36.2 L464.2,36.2 L464.8,36.3 L465.4,36.7 L466.0,37.0 L466.7,37.5 L467.3,37.6 L467.9,38.5 L468.5,38.2 L469.2,38.1 L469.8,38.8 L470.4,38.8 L471.0,39.7 L471.7,40.3 L472.3,40.6 L472.9,40.3 L473.5,40.8 L474.1,42.0 L474.7,41.9 L475.3,42.2 L475.8,42.9 L476.4,43.7 L477.0,43.8 L477.6,43.8 L478.2,44.2 L478.8,44.6 L479.4,44.6 L480.0,44.7 L480.7,45.4 L481.3,45.3 L481.9,45.9 L482.6,46.1 L483.2,47.1 L483.9,46.3 L484.6,46.8 L485.2,47.0 L485.9,47.4 L486.5,47.8 L487.2,47.6 L487.9,47.7 L488.5,47.7 L489.2,48.1 L489.9,48.8 L490.5,48.9 L491.2,48.8 L491.9,49.2 L492.5,49.5 L493.2,49.9 L493.9,49.7 L494.5,50.0 L495.2,49.7 L495.9,50.1 L496.6,51.0 L497.3,50.0 L498.0,50.6 L498.7,50.9 L499.4,50.8 L500.1,50.7 L500.7,51.1 L501.4,51.2 L502.1,51.4 L502.8,51.0 L503.4,51.8 L504.1,51.8 L504.7,52.1 L505.4,52.5 L506.1,52.8 L506.8,53.0 L507.4,52.7 L508.1,53.1 L508.8,53.3 L509.5,53.3 L510.2,53.3 L510.9,52.8 L511.6,52.8 L512.3,53.1 L513.0,52.5 L513.7,53.0 L514.4,52.8 L515.1,52.9 L515.8,52.6 L516.5,53.0 L517.2,53.3 L517.9,53.7 L518.6,53.8 L519.3,53.6 L519.9,53.6 L520.6,53.5 L521.3,53.8 L522.0,53.6 L522.7,53.8 L523.4,54.1 L524.1,53.5 L524.8,53.0 L525.5,53.2 L526.2,53.0 L526.9,53.0 L527.6,53.8 L528.4,53.5 L529.1,52.9 L529.8,53.6 L530.5,53.8 L531.2,53.2 L531.9,53.1 L532.6,53.1 L533.3,53.1 L533.9,53.1 L534.5,53.0 L535.2,52.8 L535.8,52.5 L536.4,52.2 L537.0,51.6 L537.6,50.6 L538.2,50.6 L538.8,50.4 L539.4,49.8 L540.0,49.8 L540.6,49.0 L541.2,48.5 L541.8,48.8 L542.4,48.2 L543.0,47.8 L543.6,47.6 L544.2,47.3 L544.9,46.7 L545.5,45.5 L546.1,45.7 L546.7,45.4 L547.2,44.8 L547.8,44.8 L548.4,44.7 L548.9,43.8 L549.5,43.1 L550.0,43.6 L550.5,42.4 L551.0,41.7 L551.5,41.7 L552.0,41.2 L552.4,40.3 L552.9,40.3 L553.4,39.4 L553.8,38.7 L554.3,38.5 L554.8,38.2 L555.3,37.3 L555.8,37.1 L556.3,36.5 L556.8,36.9 L557.3,35.4 L557.9,35.5 L558.4,34.7 L559.0,34.2 L559.5,34.0 L560.0,33.6 L560.5,33.2 L561.0,32.4 L561.5,31.7 L562.0,31.2 L562.5,31.0 L563.0,30.5 L563.4,30.2 L563.9,29.3 L564.3,29.0 L564.8,28.6 L565.2,27.7 L565.7,26.7 L566.2,26.3 L566.7,25.7 L567.2,26.2 L567.8,25.1 L568.4,25.4 L569.0,24.9 L569.6,24.9 L570.3,24.5 L571.0,23.9 L571.6,23.7 L572.4,23.6 L573.1,23.5 L573.8,23.2 L574.5,23.2 L575.2,23.6 L576.0,22.5 L576.7,23.1 L577.4,22.7 L578.1,23.0 L578.8,23.3 L579.5,23.1 L580.2,23.5 L580.8,23.0 L581.4,24.1 L582.0,23.9 L582.5,24.6 L583.0,25.0 L583.5,24.6 L584.0,25.7 L584.5,26.5 L585.0,27.4 L585.5,27.5 L586.1,28.0 L586.6,27.9 L587.2,29.2 L587.8,29.6 L588.5,29.4 L589.1,29.7 L589.7,29.5 L590.4,30.6 L591.0,31.4 L591.7,31.1 L592.3,31.6 L592.9,31.7 L593.5,31.6 L594.1,32.7 L594.6,32.3 L595.1,33.1 L595.6,33.7 L596.1,34.4 L596.5,34.8 L597.0,35.4 L597.4,35.6 L597.9,35.9 L598.4,36.9 L598.9,37.1 L599.4,37.4 L599.9,37.9 L600.5,38.6 L601.0,38.6 L601.6,39.1 L602.2,39.4 L602.8,40.3 L603.4,40.8 L604.0,41.6 L604.6,40.9 L605.2,41.5 L605.8,42.3 L606.4,42.3 L607.1,42.6 L607.7,43.5 L608.3,43.2 L608.9,43.3 L609.6,43.6 L610.2,44.4 L610.8,44.8 L611.4,44.6 L612.0,45.0 L612.6,45.8 L613.3,46.1 L613.9,46.1 L614.5,46.7 L615.2,46.9 L615.8,46.5 L616.5,47.1 L617.2,47.5 L617.9,47.4 L618.5,47.1 L619.2,47.8 L619.9,48.3 L620.6,48.7 L621.3,47.8 L621.9,49.4 L622.6,48.4 L623.3,49.2 L624.0,49.4 L624.7,49.5 L625.4,49.4 L626.0,49.2 L626.7,49.9 L627.4,49.6 L628.1,49.2 L628.8,51.0 L629.5,50.5 L630.1,50.9 L630.8,50.2 L631.5,51.0 L632.2,51.2 L632.9,51.2 L633.6,50.8 L634.3,50.6 L635.0,50.9 L635.7,50.4 L636.4,50.6 L637.1,51.2 L637.8,50.9 L638.5,51.2 L639.2,51.2 L639.9,51.9 L640.6,51.7 L641.3,51.3 L642.0,51.6 L642.7,51.0 L643.4,51.1 L644.1,51.5 L644.8,50.8 L645.5,51.0 L646.2,50.7 L646.9,51.0 L647.6,51.4 L648.3,50.6 L649.0,50.8 L649.7,50.4 L650.4,50.2 L651.0,50.1 L651.7,50.8 L652.4,51.0 L653.1,50.3 L653.8,49.8 L654.5,50.1 L655.2,49.6 L655.8,49.8 L656.5,49.5 L657.2,49.3 L657.9,49.3 L658.6,48.7 L659.2,48.6 L659.9,48.0 L660.6,48.3 L661.3,47.8 L662.0,48.0 L662.6,47.5 L663.3,47.7 L664.0,47.6 L664.7,46.8 L665.3,46.8 L666.0,46.5 L666.7,46.8 L667.3,46.8 L668.0,46.3 L668.6,45.6 L669.2,45.9 L669.8,44.6 L670.4,45.1 L670.9,44.1 L671.5,43.0 L672.0,44.1" stroke="#f00" stroke-width="2"/>
<path d="M421.2,228.0 L421.5,227.3 L422.0,226.7 L422.5,226.7 L423.0,225.5 L423.6,225.6 L424.2,225.2 L424.9,225.1 L425.6,224.5 L426.3,224.6 L427.0,224.9 L427.7,224.7 L428.4,224.9 L429.1,224.5 L429.8,225.1 L430.5,224.0 L431.1,224.1 L431.8,223.2 L432.4,223.1 L433.0,223.5 L433.5,222.5 L434.1,222.5 L434.6,221.9 L435.1,221.1 L435.6,220.8 L436.1,220.2 L436.6,219.7 L437.1,219.5 L437.6,219.0 L438.1,218.1 L438.6,217.4 L439.1,217.3 L439.6,216.7 L440.1,216.5 L440.7,216.6 L441.2,215.6 L441.7,214.9 L442.3,214.4 L442.8,213.8 L443.4,213.4 L443.9,212.9 L444.5,212.6 L445.0,212.2 L445.5,212.0 L446.0,211.2 L446.5,210.8 L446.9,209.9 L447.4,210.3 L447.9,209.4 L448.4,209.3 L448.9,208.4 L449.3,208.1 L449.8,207.1 L450.3,206.9 L450.8,207.0 L451.3,205.3 L451.8,205.5 L452.3,205.2 L452.8,204.4 L453.4,204.0 L453.9,203.7 L454.5,202.7 L455.1,202.7 L455.6,201.9 L456.2,201.5 L456.7,201.1 L457.3,200.8 L457.8,200.4 L458.3,200.0 L458.8,198.9 L459.3,199.5 L459.8,198.7 L460.2,198.0 L460.7,197.2 L461.2,196.8 L461.7,196.4 L462.2,195.9 L462.7,194.7 L463.2,195.0 L463.7,195.2 L464.2,193.3 L464.7,193.7 L465.3,193.1 L465.8,192.5 L466.4,192.5 L467.0,191.3 L467.5,191.3 L468.1,191.3 L468.7,190.4 L469.3,190.0 L469.9,189.8 L470.5,189.3 L471.1,189.6 L471.8,188.5 L472.4,188.7 L473.0,187.7 L473.6,188.0 L474.3,187.5 L474.9,186.4 L475.6,187.0 L476.2,186.4 L476.9,186.3 L477.5,186.7 L478.2,185.6 L478.8,185.4 L479.5,186.0 L480.2,185.3 L480.9,185.6 L481.5,185.0 L482.2,184.5 L482.9,184.5 L483.6,184.7 L484.2,184.5 L484.9,184.0 L485.6,183.9 L486.3,183.7 L487.0,183.4 L487.7,184.0 L488.3,183.3 L489.0,182.8 L489.7,182.9 L490.4,183.1 L491.1,183.0 L491.8,182.6 L492.5,182.3 L493.2,182.4 L493.9,181.8 L494.5,181.8 L495.2,182.3 L495.9,181.8 L496.6,181.9 L497.3,182.1 L498.0,181.8 L498.7,181.5 L499.4,182.0 L500.0,181.5 L500.7,181.1 L501.4,181.4 L502.1,181.2 L502.8,180.7 L503.5,180.9 L504.2,180.8 L504.9,180.2 L505.6,180.7 L506.3,180.7 L507.0,180.6 L507.7,180.2 L508.4,180.5 L509.1,180.6 L509.8,180.5 L510.5,180.0 L511.2,180.5 L511.9,179.8 L512.6,179.9 L513.2,180.2 L513.9,179.4 L514.6,179.3 L515.2,179.5 L515.9,178.9 L516.6,178.7 L517.2,178.6 L517.9,178.7 L518.6,177.5 L519.3,177.7 L519.9,177.5 L520.6,177.4 L521.3,177.3 L522.0,177.2 L522.7,177.4 L523.4,177.0 L524.1,177.2 L524.8,177.2 L525.4,176.8 L526.1,176.9 L526.8,177.3 L527.5,176.7 L528.2,176.3 L528.9,176.3 L529.6,175.9 L530.3,176.1 L530.9,176.2 L531.6,175.7 L532.3,175.8 L533.0,176.3 L533.6,175.8 L534.3,176.1 L535.0,175.9 L535.6,176.1 L536.3,176.4 L537.0,177.4 L537.7,176.8 L538.3,177.0 L539.0,177.1 L539.7,177.4 L540.4,177.9 L541.1,177.9 L541.8,178.7 L542.4,178.4 L543.1,179.1 L543.7,179.0 L544.3,179.4 L544.9,179.1 L545.5,179.8 L546.1,180.2 L546.7,180.5 L547.3,180.3 L547.9,181.6 L548.5,181.6 L549.0,182.0 L549.6,182.5 L550.1,182.9 L550.7,183.5 L551.3,183.4 L551.8,183.9 L552.4,184.7 L553.0,185.1 L553.5,185.3 L554.1,185.7 L554.7,186.0 L555.3,186.6 L555.8,187.4 L556.4,187.1 L557.0,188.3 L557.6,188.5 L558.2,188.5 L558.8,189.2 L559.4,189.0 L560.0,189.3 L560.6,189.8 L561.2,190.5 L561.8,190.9 L562.4,191.2 L563.0,191.7 L563.7,191.3 L564.3,192.3 L565.0,191.9 L565.6,192.2 L566.3,192.4 L567.0,192.1 L567.7,192.0 L568.4,192.0 L569.1,192.1 L569.8,192.1 L570.5,191.8 L571.1,191.1 L571.8,190.9 L572.4,190.5 L573.1,190.6 L573.7,189.6 L574.3,190.2 L574.9,189.3 L575.5,188.8 L576.1,188.8 L576.7,188.6 L577.2,188.0 L577.8,187.8 L578.3,187.0 L578.9,186.9 L579.4,186.5 L579.9,185.6 L580.4,185.6 L580.9,184.7 L581.4,184.2 L581.9,183.4 L582.4,183.1 L582.9,182.9 L583.3,181.7 L583.8,181.8 L584.3,181.2 L584.7,180.6 L585.2,179.3 L585.6,179.4 L586.1,179.1 L586.5,178.1 L587.0,177.8 L587.4,176.6 L587.9,176.9 L588.3,176.0 L588.8,175.9 L589.2,174.5 L589.6,174.7 L590.1,173.9 L590.5,173.6 L591.0,172.6 L591.4,172.1 L591.8,172.4 L592.3,170.9 L592.7,170.4 L593.2,170.0 L593.6,169.3 L594.1,169.4 L594.5,169.0 L595.0,167.8 L595.5,166.9 L595.9,167.3 L596.4,166.7 L596.9,166.1 L597.3,165.7 L597.8,164.6 L598.3,164.3 L598.8,163.5 L599.3,163.0 L599.8,163.3 L600.3,162.3 L600.9,162.7 L601.4,161.6 L601.9,161.0 L602.5,161.0 L603.0,160.8 L603.6,160.0 L604.1,159.1 L604.7,159.2 L605.3,159.1 L605.9,158.1 L606.5,157.7 L607.1,157.8 L607.7,157.2 L608.3,156.5 L608.9,156.4 L609.5,155.9 L610.1,155.9 L610.7,155.5 L611.4,155.5 L612.0,155.0 L612.6,154.1 L613.3,154.3 L613.9,154.2 L614.6,153.8 L615.2,153.7 L615.9,152.9 L616.5,152.5 L617.2,152.8 L617.8,152.0 L618.5,151.4 L619.2,152.1 L619.8,151.3 L620.5,151.2 L621.2,150.6 L621.9,150.4 L622.5,150.2 L623.2,150.3 L623.9,150.3 L624.5,149.2 L625.2,149.9 L625.9,149.2 L626.6,149.0 L627.2,149.3 L627.9,148.9 L628.6,148.3 L629.2,149.1 L629.9,148.1 L630.6,148.3 L631.2,148.1 L631.9,148.3 L632.6,147.5 L633.2,147.8 L633.9,147.1 L634.6,147.5 L635.3,146.8 L635.9,146.7 L636.6,147.2 L637.3,146.6 L637.9,146.4 L638.6,146.9 L639.3,146.1 L640.0,145.6 L640.6,145.9 L641.3,145.2 L642.0,145.8 L642.7,145.6 L643.3,144.9 L644.0,144.8 L644.7,144.9 L645.4,144.6 L646.1,144.2 L646.8,144.5 L647.5,143.6 L648.2,143.9 L648.9,143.7 L649.6,143.6 L650.3,143.6 L651.0,143.0 L651.7,143.4 L652.4,142.9 L653.1,142.6 L653.8,142.2 L654.5,142.1 L655.2,142.4 L655.9,141.8 L656.6,141.9 L657.3,141.9 L658.0,141.7 L658.6,141.6 L659.3,140.8 L660.0,140.3 L660.6,140.7 L661.2,140.2 L661.9,140.1 L662.5,139.5 L663.1,139.5 L663.6,139.0 L664.2,138.6 L664.8,138.2 L665.3,137.8 L665.8,137.3 L666.3,136.9 L666.8,136.6 L667.2,135.7 L667.6,135.9 L668.0,134.8 L668.4,134.6 L668.8,133.7 L669.1,133.0 L669.4,133.1 L669.7,131.8 L670.0,130.8 L670.2,130.5 L670.4,129.8 L670.6,129.1 L670.7,128.3 L670.8,127.5 L671.0,126.8 L671.1,126.0 L671.1,125.2 L671.2,124.4 L671.3,123.7 L671.3,122.9 L671.3,122.1 L671.4,121.4 L671.4,120.6 L671.4,119.9 L671.4,119.2 L671.4,118.5 L671.4,117.8 L671.4,117.2 L671.5,116.6 L671.5,116.0 L671.5,115.5 L671.5,114.9 L671.5,114.5 L671.6,114.0 L671.6,113.5 L671.6,112.9 L671.6,112.3 L671.7,111.6 L671.7,110.9 L671.7,110.0 L671.6,109.0 L671.6,107.8" stroke="#f00" stroke-width="2"/>
</g>
<path d="M74.7,28.5 H100.5" stroke="#000" stroke-width="1.8" stroke-dasharray="2 1.95"/>
<path d="M74.8,42.8 H101" stroke="#f00" stroke-width="1.5"/>
<path d="M74.8,71.3 H101" stroke="#000" stroke-width="1.6"/>
<text x="113" y="32.5" font-family="Liberation Sans, sans-serif" font-size="12.6" textLength="54.5" lengthAdjust="spacingAndGlyphs" fill="#222">oxMWCNT</text>
<text x="113" y="46.5" font-family="Liberation Sans, sans-serif" font-size="12.6" textLength="96.8" lengthAdjust="spacingAndGlyphs" fill="#222">FeAzPc-4N-DMSO</text>
<text x="110.5" y="60.5" font-family="Liberation Sans, sans-serif" font-size="12.6" textLength="162.5" lengthAdjust="spacingAndGlyphs" fill="#222">/oxMWCNT-20wt% after KCN</text>
<text x="113" y="75" font-family="Liberation Sans, sans-serif" font-size="12.6" textLength="122.5" lengthAdjust="spacingAndGlyphs" fill="#222">FeAzPc-4N/oxMWCMT</text>
<text x="110.5" y="89.5" font-family="Liberation Sans, sans-serif" font-size="12.6" textLength="171.8" lengthAdjust="spacingAndGlyphs" fill="#222">/oxMWCNT-20wt% before KCN</text>
<path d="M439,233.6 H465.4" stroke="#f00" stroke-width="1.6"/>
<path d="M439,247.9 H463.3" stroke="#f00" stroke-width="1.5" stroke-dasharray="1.3 1.25"/>
<path d="M439,262.2 H465.4" stroke="#000" stroke-width="1.6"/>
<text x="471" y="237.6" font-family="Liberation Sans, sans-serif" font-size="12.6" textLength="203" lengthAdjust="spacingAndGlyphs" fill="#222">FeAzPc-4N-DMSO/oxMWCNT-50wt%</text>
<text x="471" y="251.6" font-family="Liberation Sans, sans-serif" font-size="12.6" textLength="193" lengthAdjust="spacingAndGlyphs" fill="#222">FeAzPc-4N-THF/oxMWCNT-20wt%</text>
<text x="471" y="265.8" font-family="Liberation Sans, sans-serif" font-size="12.6" textLength="168.8" lengthAdjust="spacingAndGlyphs" fill="#222">FePc-DMSO/oxMWCNT-20wt%</text>
</svg>
</body></html>
